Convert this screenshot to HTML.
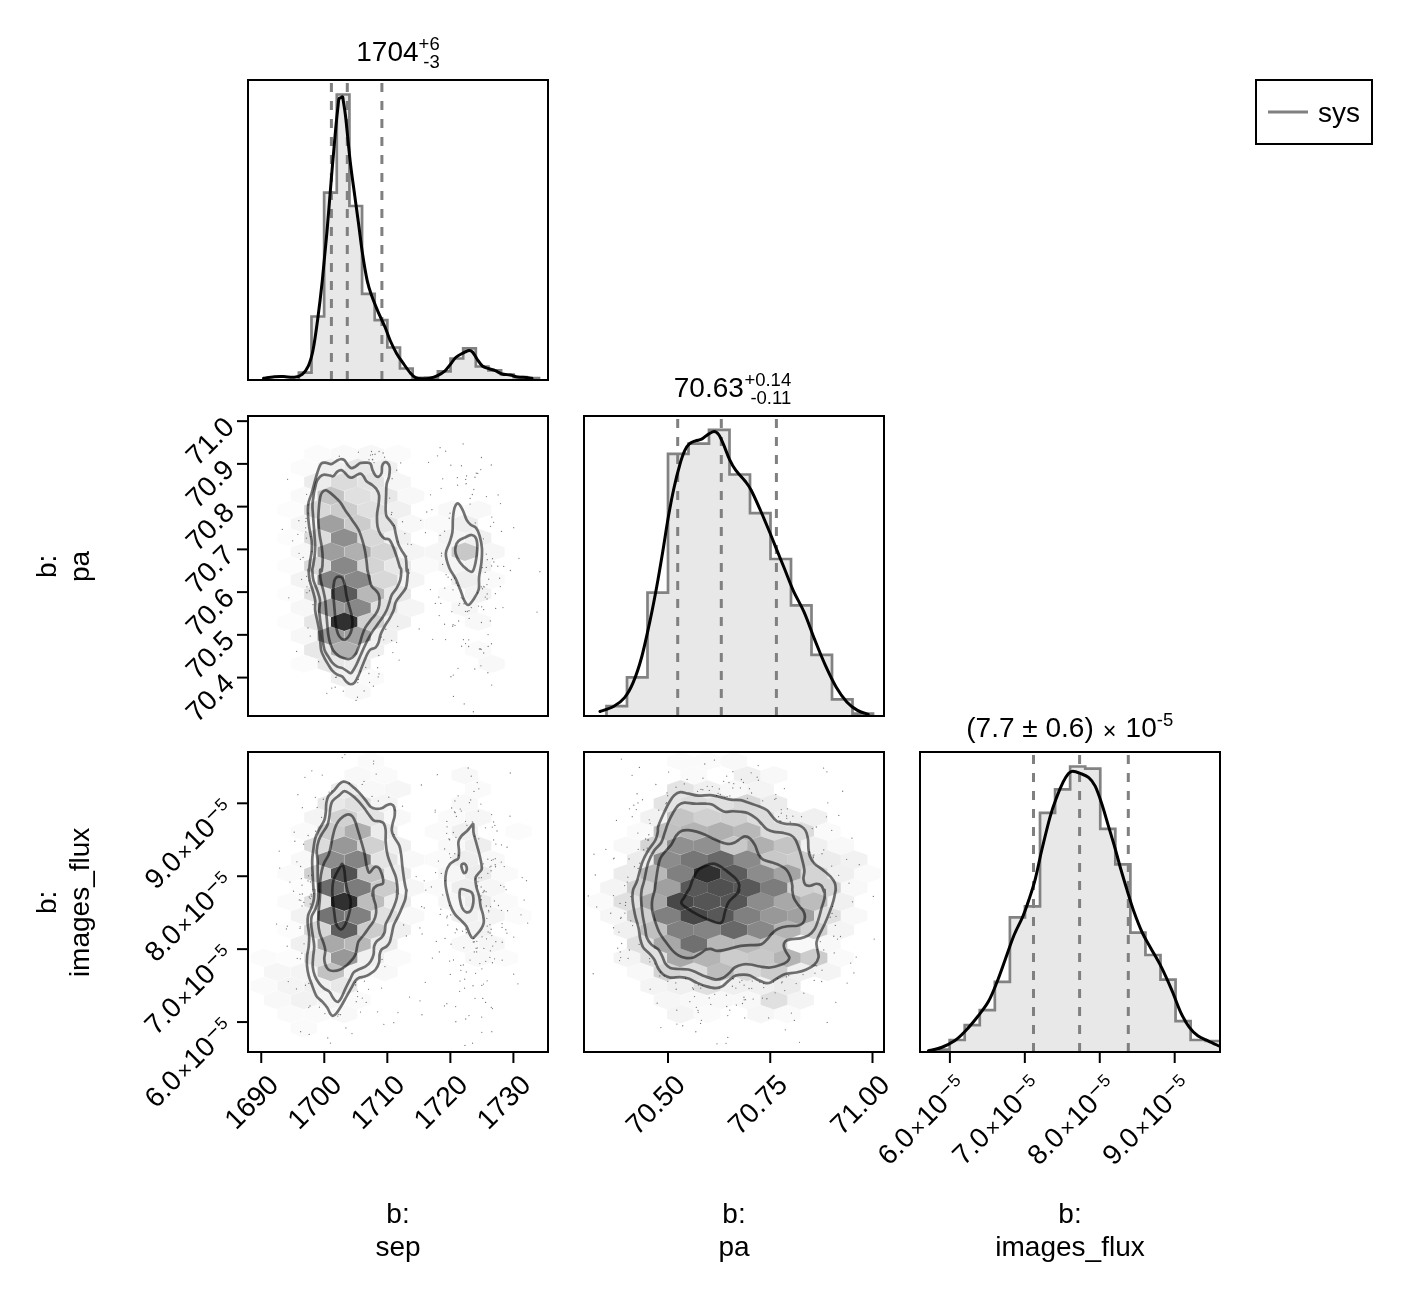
<!DOCTYPE html>
<html lang="en"><head><meta charset="utf-8"><title>Corner plot: b sep / pa / images_flux</title>
<style>html,body{margin:0;padding:0;background:#fff}svg{display:block}text{font-family:"Liberation Sans", Arial, Helvetica, sans-serif;fill:#000}</style></head><body>
<svg width="1404" height="1292" viewBox="0 0 1404 1292">
<rect width="1404" height="1292" fill="#fff"/>
<defs>
<clipPath id="c00"><rect x="248" y="80" width="300" height="300"/></clipPath>
<clipPath id="c10"><rect x="248" y="416" width="300" height="300"/></clipPath>
<clipPath id="c20"><rect x="248" y="752" width="300" height="300"/></clipPath>
<clipPath id="c01"><rect x="584" y="80" width="300" height="300"/></clipPath>
<clipPath id="c11"><rect x="584" y="416" width="300" height="300"/></clipPath>
<clipPath id="c21"><rect x="584" y="752" width="300" height="300"/></clipPath>
<clipPath id="c02"><rect x="920" y="80" width="300" height="300"/></clipPath>
<clipPath id="c12"><rect x="920" y="416" width="300" height="300"/></clipPath>
<clipPath id="c22"><rect x="920" y="752" width="300" height="300"/></clipPath>
</defs>
<g clip-path="url(#c00)">
<path d="M298.86,380 L298.86,372.7 L311.5,372.7 L311.5,316.5 L324.14,316.5 L324.14,192.7 L336.78,192.7 L336.78,94.5 L349.42,94.5 L349.42,206 L362.06,206 L362.06,293.8 L374.7,293.8 L374.7,320.1 L387.34,320.1 L387.34,347.5 L399.98,347.5 L399.98,368.5 L412.62,368.5 L412.62,377.9 L425.26,377.9 L425.26,377.6 L437.9,377.6 L437.9,371.3 L450.54,371.3 L450.54,358.5 L463.18,358.5 L463.18,348.4 L475.82,348.4 L475.82,366.5 L488.46,366.5 L488.46,370.3 L501.1,370.3 L501.1,374.5 L513.74,374.5 L513.74,377.2 L526.38,377.2 L526.38,378.2 L539.02,378.2 L539.02,380 Z" fill="#e8e8e8" stroke="none"/>
<line x1="331.4" y1="380" x2="331.4" y2="80" stroke="#808080" stroke-width="3" stroke-dasharray="9 9"/>
<line x1="347.3" y1="380" x2="347.3" y2="80" stroke="#808080" stroke-width="3" stroke-dasharray="9 9"/>
<line x1="381.9" y1="380" x2="381.9" y2="80" stroke="#808080" stroke-width="3" stroke-dasharray="9 9"/>
<path d="M298.86,380 L298.86,372.7 L311.5,372.7 L311.5,316.5 L324.14,316.5 L324.14,192.7 L336.78,192.7 L336.78,94.5 L349.42,94.5 L349.42,206 L362.06,206 L362.06,293.8 L374.7,293.8 L374.7,320.1 L387.34,320.1 L387.34,347.5 L399.98,347.5 L399.98,368.5 L412.62,368.5 L412.62,377.9 L425.26,377.9 L425.26,377.6 L437.9,377.6 L437.9,371.3 L450.54,371.3 L450.54,358.5 L463.18,358.5 L463.18,348.4 L475.82,348.4 L475.82,366.5 L488.46,366.5 L488.46,370.3 L501.1,370.3 L501.1,374.5 L513.74,374.5 L513.74,377.2 L526.38,377.2 L526.38,378.2 L539.02,378.2 L539.02,380" fill="none" stroke="#828282" stroke-width="2.7" stroke-linejoin="miter"/>
<path d="M263.5,378.3 C265.3,378.05 270.95,377.08 274.3,376.8 C277.65,376.52 280.25,376.53 283.6,376.6 C286.95,376.67 291.3,377.58 294.4,377.2 C297.5,376.82 299.87,376.2 302.2,374.3 C304.53,372.4 306.6,369.8 308.4,365.8 C310.2,361.8 311.45,358.05 313,350.3 C314.55,342.55 316.15,330.92 317.7,319.3 C319.25,307.68 320.77,295.07 322.3,280.6 C323.83,266.13 325.35,250.02 326.9,232.5 C328.45,214.98 330.1,193.18 331.6,175.5 C333.1,157.82 334.82,138.07 335.9,126.4 C336.98,114.73 337.6,110.08 338.1,105.5 C338.6,100.92 338.47,100.18 338.9,98.9 C339.33,97.62 340.08,98.13 340.7,97.8 C341.32,97.47 342.17,96.37 342.6,96.9 C343.03,97.43 342.78,97.57 343.3,101 C343.82,104.43 344.55,107.45 345.7,117.5 C346.85,127.55 348.68,148.2 350.2,161.3 C351.72,174.4 353.4,185.65 354.8,196.1 C356.2,206.55 357.3,214.3 358.6,224 C359.9,233.7 361.17,244.87 362.6,254.3 C364.03,263.73 365.67,273.63 367.2,280.6 C368.73,287.57 370,290.93 371.8,296.1 C373.6,301.27 375.8,306.45 378,311.6 C380.2,316.75 382.93,322.1 385,327 C387.07,331.9 388.47,336.6 390.4,341 C392.33,345.4 394.53,349.78 396.6,353.4 C398.67,357.02 400.48,359.4 402.8,362.7 C405.12,366 408.37,370.72 410.5,373.2 C412.63,375.68 413.77,376.67 415.6,377.6 C417.43,378.53 419.1,378.72 421.5,378.8 C423.9,378.88 427.33,378.63 430,378.1 C432.67,377.57 435,376.82 437.5,375.6 C440,374.38 442.85,372.67 445,370.8 C447.15,368.93 448.62,366.62 450.4,364.4 C452.18,362.18 453.75,359.32 455.7,357.5 C457.65,355.68 459.88,354.67 462.1,353.5 C464.32,352.33 467.22,350.68 469,350.5 C470.78,350.32 471.47,350.98 472.8,352.4 C474.13,353.82 475.4,356.73 477,359 C478.6,361.27 480.43,364.38 482.4,366 C484.37,367.62 486.67,367.93 488.8,368.7 C490.93,369.47 492.97,369.72 495.2,370.6 C497.43,371.48 499.7,373.27 502.2,374 C504.7,374.73 507.62,374.5 510.2,375 C512.78,375.5 515.03,376.58 517.7,377 C520.37,377.42 523.82,377.28 526.2,377.5 C528.58,377.72 531.03,378.17 532,378.3" fill="none" stroke="#000" stroke-width="3" stroke-linejoin="round" stroke-linecap="round"/>
</g>
<g clip-path="url(#c11)">
<path d="M606.5,716 L606.5,706.2 L627,706.2 L627,677.3 L647.5,677.3 L647.5,592.7 L668,592.7 L668,453.9 L688.5,453.9 L688.5,443.6 L709,443.6 L709,429.9 L729.5,429.9 L729.5,474.5 L750,474.5 L750,513.2 L770.5,513.2 L770.5,559 L791,559 L791,605.3 L811.5,605.3 L811.5,654.9 L832,654.9 L832,699.3 L852.5,699.3 L852.5,713.6 L873,713.6 L873,716 Z" fill="#e8e8e8" stroke="none"/>
<line x1="677.7" y1="716" x2="677.7" y2="416" stroke="#808080" stroke-width="3" stroke-dasharray="9 9"/>
<line x1="721.3" y1="716" x2="721.3" y2="416" stroke="#808080" stroke-width="3" stroke-dasharray="9 9"/>
<line x1="776.4" y1="716" x2="776.4" y2="416" stroke="#808080" stroke-width="3" stroke-dasharray="9 9"/>
<path d="M606.5,716 L606.5,706.2 L627,706.2 L627,677.3 L647.5,677.3 L647.5,592.7 L668,592.7 L668,453.9 L688.5,453.9 L688.5,443.6 L709,443.6 L709,429.9 L729.5,429.9 L729.5,474.5 L750,474.5 L750,513.2 L770.5,513.2 L770.5,559 L791,559 L791,605.3 L811.5,605.3 L811.5,654.9 L832,654.9 L832,699.3 L852.5,699.3 L852.5,713.6 L873,713.6 L873,716" fill="none" stroke="#828282" stroke-width="2.7" stroke-linejoin="miter"/>
<path d="M600,711.5 C602.32,710.62 609.8,708.52 613.9,706.2 C618,703.88 621.4,701.52 624.6,697.6 C627.8,693.68 630.25,689.47 633.1,682.7 C635.95,675.93 638.82,667.62 641.7,657 C644.58,646.38 647.88,630.78 650.4,619 C652.92,607.22 654.72,597.68 656.8,586.3 C658.88,574.92 660.97,562.32 662.9,550.7 C664.83,539.08 666.58,526.92 668.4,516.6 C670.22,506.28 671.87,497.57 673.8,488.8 C675.73,480.03 678.2,470.33 680,464 C681.8,457.67 683.05,454.15 684.6,450.8 C686.15,447.45 687.48,445.57 689.3,443.9 C691.12,442.23 693.45,441.58 695.5,440.8 C697.55,440.02 699.55,440.23 701.6,439.2 C703.65,438.17 705.73,435.88 707.8,434.6 C709.87,433.32 712.18,431.5 714,431.5 C715.82,431.5 717.15,432.53 718.7,434.6 C720.25,436.67 721.5,439.78 723.3,443.9 C725.1,448.02 727.43,454.92 729.5,459.3 C731.57,463.68 733.12,466.58 735.7,470.2 C738.28,473.82 742.42,477.65 745,481 C747.58,484.35 748.62,485.38 751.2,490.3 C753.78,495.22 757.4,503.47 760.5,510.5 C763.6,517.53 766.97,525.65 769.8,532.5 C772.63,539.35 775.13,545.77 777.5,551.6 C779.87,557.43 781.35,560.97 784,567.5 C786.65,574.03 790.05,583.35 793.4,590.8 C796.75,598.25 800.53,604.02 804.1,612.2 C807.67,620.38 811.23,631 814.8,639.9 C818.37,648.8 821.95,657.77 825.5,665.6 C829.05,673.43 832.55,680.85 836.1,686.9 C839.65,692.95 843.23,697.98 846.8,701.9 C850.37,705.82 853.93,708.33 857.5,710.4 C861.07,712.47 866.42,713.65 868.2,714.3" fill="none" stroke="#000" stroke-width="3" stroke-linejoin="round" stroke-linecap="round"/>
</g>
<g clip-path="url(#c22)">
<path d="M934.6,1052 L934.6,1049.6 L949.66,1049.6 L949.66,1040 L964.72,1040 L964.72,1025.1 L979.78,1025.1 L979.78,1010.1 L994.84,1010.1 L994.84,981.9 L1009.9,981.9 L1009.9,917.4 L1024.96,917.4 L1024.96,906.4 L1040.02,906.4 L1040.02,812.9 L1055.08,812.9 L1055.08,789.4 L1070.14,789.4 L1070.14,766.5 L1085.2,766.5 L1085.2,768.7 L1100.26,768.7 L1100.26,828.9 L1115.32,828.9 L1115.32,864.3 L1130.38,864.3 L1130.38,932.7 L1145.44,932.7 L1145.44,955 L1160.5,955 L1160.5,979.6 L1175.56,979.6 L1175.56,1021.2 L1190.62,1021.2 L1190.62,1040 L1205.68,1040 L1205.68,1041 L1220.74,1041 L1220.74,1052 Z" fill="#e8e8e8" stroke="none"/>
<line x1="1033.5" y1="1052" x2="1033.5" y2="752" stroke="#808080" stroke-width="3" stroke-dasharray="9 9"/>
<line x1="1079.6" y1="1052" x2="1079.6" y2="752" stroke="#808080" stroke-width="3" stroke-dasharray="9 9"/>
<line x1="1128.3" y1="1052" x2="1128.3" y2="752" stroke="#808080" stroke-width="3" stroke-dasharray="9 9"/>
<path d="M934.6,1052 L934.6,1049.6 L949.66,1049.6 L949.66,1040 L964.72,1040 L964.72,1025.1 L979.78,1025.1 L979.78,1010.1 L994.84,1010.1 L994.84,981.9 L1009.9,981.9 L1009.9,917.4 L1024.96,917.4 L1024.96,906.4 L1040.02,906.4 L1040.02,812.9 L1055.08,812.9 L1055.08,789.4 L1070.14,789.4 L1070.14,766.5 L1085.2,766.5 L1085.2,768.7 L1100.26,768.7 L1100.26,828.9 L1115.32,828.9 L1115.32,864.3 L1130.38,864.3 L1130.38,932.7 L1145.44,932.7 L1145.44,955 L1160.5,955 L1160.5,979.6 L1175.56,979.6 L1175.56,1021.2 L1190.62,1021.2 L1190.62,1040 L1205.68,1040 L1205.68,1041 L1220.74,1041 L1220.74,1052" fill="none" stroke="#828282" stroke-width="2.7" stroke-linejoin="miter"/>
<path d="M928.5,1050.7 C930.65,1050.17 937.12,1049.1 941.4,1047.5 C945.68,1045.9 950.28,1043.77 954.2,1041.1 C958.12,1038.43 960.98,1035.6 964.9,1031.5 C968.82,1027.4 973.78,1021.48 977.7,1016.5 C981.62,1011.52 985.2,1007.3 988.4,1001.6 C991.6,995.9 994.05,989.43 996.9,982.3 C999.75,975.17 1002.65,966.63 1005.5,958.8 C1008.35,950.97 1011.15,942.27 1014,935.3 C1016.85,928.33 1020.1,922.97 1022.6,917 C1025.1,911.03 1026.87,905.92 1029,899.5 C1031.13,893.08 1033.27,886.75 1035.4,878.5 C1037.53,870.25 1039.32,860.4 1041.8,850 C1044.28,839.6 1047.8,824.95 1050.3,816.1 C1052.8,807.25 1054.65,802.6 1056.8,796.9 C1058.95,791.2 1061.25,785.82 1063.2,781.9 C1065.15,777.98 1066.9,775.18 1068.5,773.4 C1070.1,771.62 1070.83,771.2 1072.8,771.2 C1074.77,771.2 1077.63,772.33 1080.3,773.4 C1082.97,774.47 1086.32,775.47 1088.8,777.6 C1091.28,779.73 1093.07,781.92 1095.2,786.2 C1097.33,790.48 1099.47,796.9 1101.6,803.3 C1103.73,809.7 1105.87,817.48 1108,824.6 C1110.13,831.72 1112.25,838.52 1114.4,846 C1116.55,853.48 1118.75,862.02 1120.9,869.5 C1123.05,876.98 1125.17,883.98 1127.3,890.9 C1129.43,897.82 1131.22,904.07 1133.7,911 C1136.18,917.93 1139.35,926.3 1142.2,932.5 C1145.05,938.7 1147.58,942.38 1150.8,948.2 C1154.02,954.02 1157.95,960.28 1161.5,967.4 C1165.05,974.52 1168.9,983.42 1172.1,990.9 C1175.3,998.38 1177.85,1006.25 1180.7,1012.3 C1183.55,1018.35 1186.35,1023.28 1189.2,1027.2 C1192.05,1031.12 1194.58,1033.48 1197.8,1035.8 C1201.02,1038.12 1204.95,1039.4 1208.5,1041.1 C1212.05,1042.8 1217.33,1045.18 1219.1,1046" fill="none" stroke="#000" stroke-width="3" stroke-linejoin="round" stroke-linecap="round"/>
</g>
<g clip-path="url(#c10)">
<polygon points="290.55,500.59 303.78,505.19 303.78,514.41 290.55,519.01 277.32,514.41 277.32,505.19" fill="#000" fill-opacity="0.012"/>
<polygon points="290.55,528.59 303.78,533.19 303.78,542.41 290.55,547.01 277.32,542.41 277.32,533.19" fill="#000" fill-opacity="0.012"/>
<polygon points="290.55,556.59 303.78,561.19 303.78,570.41 290.55,575.01 277.32,570.41 277.32,561.19" fill="#000" fill-opacity="0.012"/>
<polygon points="290.55,584.59 303.78,589.19 303.78,598.41 290.55,603.01 277.32,598.41 277.32,589.19" fill="#000" fill-opacity="0.012"/>
<polygon points="290.55,612.59 303.78,617.19 303.78,626.41 290.55,631.01 277.32,626.41 277.32,617.19" fill="#000" fill-opacity="0.012"/>
<polygon points="303.95,458.59 317.18,463.19 317.18,472.41 303.95,477.01 290.72,472.41 290.72,463.19" fill="#000" fill-opacity="0.016"/>
<polygon points="303.95,486.59 317.18,491.19 317.18,500.41 303.95,505.01 290.72,500.41 290.72,491.19" fill="#000" fill-opacity="0.024"/>
<polygon points="303.95,514.59 317.18,519.19 317.18,528.41 303.95,533.01 290.72,528.41 290.72,519.19" fill="#000" fill-opacity="0.039"/>
<polygon points="303.95,542.59 317.18,547.19 317.18,556.41 303.95,561.01 290.72,556.41 290.72,547.19" fill="#000" fill-opacity="0.031"/>
<polygon points="303.95,570.59 317.18,575.19 317.18,584.41 303.95,589.01 290.72,584.41 290.72,575.19" fill="#000" fill-opacity="0.047"/>
<polygon points="303.95,598.59 317.18,603.19 317.18,612.41 303.95,617.01 290.72,612.41 290.72,603.19" fill="#000" fill-opacity="0.031"/>
<polygon points="303.95,626.59 317.18,631.19 317.18,640.41 303.95,645.01 290.72,640.41 290.72,631.19" fill="#000" fill-opacity="0.031"/>
<polygon points="303.95,654.59 317.18,659.19 317.18,668.41 303.95,673.01 290.72,668.41 290.72,659.19" fill="#000" fill-opacity="0.016"/>
<polygon points="317.35,444.59 330.58,449.19 330.58,458.41 317.35,463.01 304.12,458.41 304.12,449.19" fill="#000" fill-opacity="0.016"/>
<polygon points="317.35,472.59 330.58,477.19 330.58,486.41 317.35,491.01 304.12,486.41 304.12,477.19" fill="#000" fill-opacity="0.075"/>
<polygon points="317.35,500.59 330.58,505.19 330.58,514.41 317.35,519.01 304.12,514.41 304.12,505.19" fill="#000" fill-opacity="0.153"/>
<polygon points="317.35,528.59 330.58,533.19 330.58,542.41 317.35,547.01 304.12,542.41 304.12,533.19" fill="#000" fill-opacity="0.137"/>
<polygon points="317.35,556.59 330.58,561.19 330.58,570.41 317.35,575.01 304.12,570.41 304.12,561.19" fill="#000" fill-opacity="0.153"/>
<polygon points="317.35,584.59 330.58,589.19 330.58,598.41 317.35,603.01 304.12,598.41 304.12,589.19" fill="#000" fill-opacity="0.122"/>
<polygon points="317.35,612.59 330.58,617.19 330.58,626.41 317.35,631.01 304.12,626.41 304.12,617.19" fill="#000" fill-opacity="0.098"/>
<polygon points="317.35,640.59 330.58,645.19 330.58,654.41 317.35,659.01 304.12,654.41 304.12,645.19" fill="#000" fill-opacity="0.090"/>
<polygon points="330.75,458.59 343.98,463.19 343.98,472.41 330.75,477.01 317.52,472.41 317.52,463.19" fill="#000" fill-opacity="0.059"/>
<polygon points="330.75,486.59 343.98,491.19 343.98,500.41 330.75,505.01 317.52,500.41 317.52,491.19" fill="#000" fill-opacity="0.231"/>
<polygon points="330.75,514.59 343.98,519.19 343.98,528.41 330.75,533.01 317.52,528.41 317.52,519.19" fill="#000" fill-opacity="0.373"/>
<polygon points="330.75,542.59 343.98,547.19 343.98,556.41 330.75,561.01 317.52,556.41 317.52,547.19" fill="#000" fill-opacity="0.380"/>
<polygon points="330.75,570.59 343.98,575.19 343.98,584.41 330.75,589.01 317.52,584.41 317.52,575.19" fill="#000" fill-opacity="0.498"/>
<polygon points="330.75,598.59 343.98,603.19 343.98,612.41 330.75,617.01 317.52,612.41 317.52,603.19" fill="#000" fill-opacity="0.396"/>
<polygon points="330.75,626.59 343.98,631.19 343.98,640.41 330.75,645.01 317.52,640.41 317.52,631.19" fill="#000" fill-opacity="0.388"/>
<polygon points="330.75,654.59 343.98,659.19 343.98,668.41 330.75,673.01 317.52,668.41 317.52,659.19" fill="#000" fill-opacity="0.090"/>
<polygon points="344.15,444.59 357.38,449.19 357.38,458.41 344.15,463.01 330.92,458.41 330.92,449.19" fill="#000" fill-opacity="0.024"/>
<polygon points="344.15,472.59 357.38,477.19 357.38,486.41 344.15,491.01 330.92,486.41 330.92,477.19" fill="#000" fill-opacity="0.137"/>
<polygon points="344.15,500.59 357.38,505.19 357.38,514.41 344.15,519.01 330.92,514.41 330.92,505.19" fill="#000" fill-opacity="0.200"/>
<polygon points="344.15,528.59 357.38,533.19 357.38,542.41 344.15,547.01 330.92,542.41 330.92,533.19" fill="#000" fill-opacity="0.443"/>
<polygon points="344.15,556.59 357.38,561.19 357.38,570.41 344.15,575.01 330.92,570.41 330.92,561.19" fill="#000" fill-opacity="0.467"/>
<polygon points="344.15,584.59 357.38,589.19 357.38,598.41 344.15,603.01 330.92,598.41 330.92,589.19" fill="#000" fill-opacity="0.647"/>
<polygon points="344.15,612.59 357.38,617.19 357.38,626.41 344.15,631.01 330.92,626.41 330.92,617.19" fill="#000" fill-opacity="0.812"/>
<polygon points="344.15,640.59 357.38,645.19 357.38,654.41 344.15,659.01 330.92,654.41 330.92,645.19" fill="#000" fill-opacity="0.310"/>
<polygon points="344.15,668.59 357.38,673.19 357.38,682.41 344.15,687.01 330.92,682.41 330.92,673.19" fill="#000" fill-opacity="0.059"/>
<polygon points="357.55,458.59 370.78,463.19 370.78,472.41 357.55,477.01 344.32,472.41 344.32,463.19" fill="#000" fill-opacity="0.090"/>
<polygon points="357.55,486.59 370.78,491.19 370.78,500.41 357.55,505.01 344.32,500.41 344.32,491.19" fill="#000" fill-opacity="0.122"/>
<polygon points="357.55,514.59 370.78,519.19 370.78,528.41 357.55,533.01 344.32,528.41 344.32,519.19" fill="#000" fill-opacity="0.200"/>
<polygon points="357.55,542.59 370.78,547.19 370.78,556.41 357.55,561.01 344.32,556.41 344.32,547.19" fill="#000" fill-opacity="0.310"/>
<polygon points="357.55,570.59 370.78,575.19 370.78,584.41 357.55,589.01 344.32,584.41 344.32,575.19" fill="#000" fill-opacity="0.467"/>
<polygon points="357.55,598.59 370.78,603.19 370.78,612.41 357.55,617.01 344.32,612.41 344.32,603.19" fill="#000" fill-opacity="0.467"/>
<polygon points="357.55,626.59 370.78,631.19 370.78,640.41 357.55,645.01 344.32,640.41 344.32,631.19" fill="#000" fill-opacity="0.373"/>
<polygon points="357.55,654.59 370.78,659.19 370.78,668.41 357.55,673.01 344.32,668.41 344.32,659.19" fill="#000" fill-opacity="0.075"/>
<polygon points="357.55,682.59 370.78,687.19 370.78,696.41 357.55,701.01 344.32,696.41 344.32,687.19" fill="#000" fill-opacity="0.027"/>
<polygon points="370.95,444.59 384.18,449.19 384.18,458.41 370.95,463.01 357.72,458.41 357.72,449.19" fill="#000" fill-opacity="0.031"/>
<polygon points="370.95,472.59 384.18,477.19 384.18,486.41 370.95,491.01 357.72,486.41 357.72,477.19" fill="#000" fill-opacity="0.106"/>
<polygon points="370.95,500.59 384.18,505.19 384.18,514.41 370.95,519.01 357.72,514.41 357.72,505.19" fill="#000" fill-opacity="0.122"/>
<polygon points="370.95,528.59 384.18,533.19 384.18,542.41 370.95,547.01 357.72,542.41 357.72,533.19" fill="#000" fill-opacity="0.153"/>
<polygon points="370.95,556.59 384.18,561.19 384.18,570.41 370.95,575.01 357.72,570.41 357.72,561.19" fill="#000" fill-opacity="0.169"/>
<polygon points="370.95,584.59 384.18,589.19 384.18,598.41 370.95,603.01 357.72,598.41 357.72,589.19" fill="#000" fill-opacity="0.278"/>
<polygon points="370.95,612.59 384.18,617.19 384.18,626.41 370.95,631.01 357.72,626.41 357.72,617.19" fill="#000" fill-opacity="0.184"/>
<polygon points="370.95,640.59 384.18,645.19 384.18,654.41 370.95,659.01 357.72,654.41 357.72,645.19" fill="#000" fill-opacity="0.059"/>
<polygon points="370.95,668.59 384.18,673.19 384.18,682.41 370.95,687.01 357.72,682.41 357.72,673.19" fill="#000" fill-opacity="0.020"/>
<polygon points="384.35,458.59 397.58,463.19 397.58,472.41 384.35,477.01 371.12,472.41 371.12,463.19" fill="#000" fill-opacity="0.059"/>
<polygon points="384.35,486.59 397.58,491.19 397.58,500.41 384.35,505.01 371.12,500.41 371.12,491.19" fill="#000" fill-opacity="0.090"/>
<polygon points="384.35,514.59 397.58,519.19 397.58,528.41 384.35,533.01 371.12,528.41 371.12,519.19" fill="#000" fill-opacity="0.106"/>
<polygon points="384.35,542.59 397.58,547.19 397.58,556.41 384.35,561.01 371.12,556.41 371.12,547.19" fill="#000" fill-opacity="0.169"/>
<polygon points="384.35,570.59 397.58,575.19 397.58,584.41 384.35,589.01 371.12,584.41 371.12,575.19" fill="#000" fill-opacity="0.153"/>
<polygon points="384.35,598.59 397.58,603.19 397.58,612.41 384.35,617.01 371.12,612.41 371.12,603.19" fill="#000" fill-opacity="0.122"/>
<polygon points="384.35,626.59 397.58,631.19 397.58,640.41 384.35,645.01 371.12,640.41 371.12,631.19" fill="#000" fill-opacity="0.059"/>
<polygon points="397.75,444.59 410.98,449.19 410.98,458.41 397.75,463.01 384.52,458.41 384.52,449.19" fill="#000" fill-opacity="0.016"/>
<polygon points="397.75,472.59 410.98,477.19 410.98,486.41 397.75,491.01 384.52,486.41 384.52,477.19" fill="#000" fill-opacity="0.035"/>
<polygon points="397.75,500.59 410.98,505.19 410.98,514.41 397.75,519.01 384.52,514.41 384.52,505.19" fill="#000" fill-opacity="0.059"/>
<polygon points="397.75,528.59 410.98,533.19 410.98,542.41 397.75,547.01 384.52,542.41 384.52,533.19" fill="#000" fill-opacity="0.059"/>
<polygon points="397.75,556.59 410.98,561.19 410.98,570.41 397.75,575.01 384.52,570.41 384.52,561.19" fill="#000" fill-opacity="0.090"/>
<polygon points="397.75,584.59 410.98,589.19 410.98,598.41 397.75,603.01 384.52,598.41 384.52,589.19" fill="#000" fill-opacity="0.090"/>
<polygon points="397.75,612.59 410.98,617.19 410.98,626.41 397.75,631.01 384.52,626.41 384.52,617.19" fill="#000" fill-opacity="0.059"/>
<polygon points="411.15,486.59 424.38,491.19 424.38,500.41 411.15,505.01 397.92,500.41 397.92,491.19" fill="#000" fill-opacity="0.027"/>
<polygon points="411.15,514.59 424.38,519.19 424.38,528.41 411.15,533.01 397.92,528.41 397.92,519.19" fill="#000" fill-opacity="0.027"/>
<polygon points="411.15,542.59 424.38,547.19 424.38,556.41 411.15,561.01 397.92,556.41 397.92,547.19" fill="#000" fill-opacity="0.043"/>
<polygon points="411.15,570.59 424.38,575.19 424.38,584.41 411.15,589.01 397.92,584.41 397.92,575.19" fill="#000" fill-opacity="0.043"/>
<polygon points="411.15,598.59 424.38,603.19 424.38,612.41 411.15,617.01 397.92,612.41 397.92,603.19" fill="#000" fill-opacity="0.039"/>
<polygon points="424.55,556.59 437.78,561.19 437.78,570.41 424.55,575.01 411.32,570.41 411.32,561.19" fill="#000" fill-opacity="0.020"/>
<polygon points="437.95,514.59 451.18,519.19 451.18,528.41 437.95,533.01 424.72,528.41 424.72,519.19" fill="#000" fill-opacity="0.020"/>
<polygon points="437.95,542.59 451.18,547.19 451.18,556.41 437.95,561.01 424.72,556.41 424.72,547.19" fill="#000" fill-opacity="0.035"/>
<polygon points="451.35,500.59 464.58,505.19 464.58,514.41 451.35,519.01 438.12,514.41 438.12,505.19" fill="#000" fill-opacity="0.027"/>
<polygon points="451.35,528.59 464.58,533.19 464.58,542.41 451.35,547.01 438.12,542.41 438.12,533.19" fill="#000" fill-opacity="0.043"/>
<polygon points="451.35,556.59 464.58,561.19 464.58,570.41 451.35,575.01 438.12,570.41 438.12,561.19" fill="#000" fill-opacity="0.043"/>
<polygon points="451.35,584.59 464.58,589.19 464.58,598.41 451.35,603.01 438.12,598.41 438.12,589.19" fill="#000" fill-opacity="0.020"/>
<polygon points="464.75,514.59 477.98,519.19 477.98,528.41 464.75,533.01 451.52,528.41 451.52,519.19" fill="#000" fill-opacity="0.067"/>
<polygon points="464.75,542.59 477.98,547.19 477.98,556.41 464.75,561.01 451.52,556.41 451.52,547.19" fill="#000" fill-opacity="0.216"/>
<polygon points="464.75,570.59 477.98,575.19 477.98,584.41 464.75,589.01 451.52,584.41 451.52,575.19" fill="#000" fill-opacity="0.067"/>
<polygon points="464.75,598.59 477.98,603.19 477.98,612.41 464.75,617.01 451.52,612.41 451.52,603.19" fill="#000" fill-opacity="0.035"/>
<polygon points="478.15,500.59 491.38,505.19 491.38,514.41 478.15,519.01 464.92,514.41 464.92,505.19" fill="#000" fill-opacity="0.027"/>
<polygon points="478.15,528.59 491.38,533.19 491.38,542.41 478.15,547.01 464.92,542.41 464.92,533.19" fill="#000" fill-opacity="0.059"/>
<polygon points="478.15,556.59 491.38,561.19 491.38,570.41 478.15,575.01 464.92,570.41 464.92,561.19" fill="#000" fill-opacity="0.051"/>
<polygon points="478.15,584.59 491.38,589.19 491.38,598.41 478.15,603.01 464.92,598.41 464.92,589.19" fill="#000" fill-opacity="0.051"/>
<polygon points="478.15,612.59 491.38,617.19 491.38,626.41 478.15,631.01 464.92,626.41 464.92,617.19" fill="#000" fill-opacity="0.027"/>
<polygon points="478.15,640.59 491.38,645.19 491.38,654.41 478.15,659.01 464.92,654.41 464.92,645.19" fill="#000" fill-opacity="0.020"/>
<polygon points="491.55,542.59 504.78,547.19 504.78,556.41 491.55,561.01 478.32,556.41 478.32,547.19" fill="#000" fill-opacity="0.035"/>
<polygon points="491.55,570.59 504.78,575.19 504.78,584.41 491.55,589.01 478.32,584.41 478.32,575.19" fill="#000" fill-opacity="0.020"/>
<polygon points="491.55,654.59 504.78,659.19 504.78,668.41 491.55,673.01 478.32,668.41 478.32,659.19" fill="#000" fill-opacity="0.027"/>
<path d="M488.71,579.13h0M473.41,711.73h0M440.11,535.46h0M486.3,554.1h0M451.82,611.55h0M539.89,571.65h0M491.8,517.03h0M441.5,555.93h0M385.81,629.26h0M477.74,473.47h0M483.7,653.01h0M428.54,462.34h0M453.28,675.06h0M502.96,607.62h0M497.79,566.16h0M459.65,603.72h0M491.29,464.98h0M477.51,592.9h0M474.78,669h0M335.19,687.16h0M383.74,639.79h0M451.45,579.68h0M481.34,586.79h0M369.57,682.33h0M518.96,558.28h0M282.28,529.4h0M465.57,643.55h0M437.5,455.86h0M458.01,668.34h0M464.2,703.97h0M430.52,494.84h0M299.07,553.37h0M484.09,586.93h0M481.48,457.51h0M466.27,483.54h0M306.38,538.09h0M438.8,597.04h0M468.71,639.78h0M303.09,557.47h0M495.65,608.4h0M453.1,624.65h0M440.09,447.66h0M391.4,514.48h0M486.31,567.41h0M456.05,582.99h0M378.23,676.97h0M479.4,649.02h0M476.29,473.22h0M310.81,536.59h0M470.11,498.41h0M491.45,643.76h0M461.61,646.23h0M439.21,615.56h0M493.64,522.33h0M486.43,496.55h0M368.93,673.49h0M357.49,697.23h0M381.28,637.05h0M481.25,649.35h0M445.55,639.55h0M493.87,562.01h0M483.7,609.68h0M536.98,612.05h0M458.68,620.98h0M485.29,597.11h0M306.89,592.72h0M482.42,588.73h0M465.97,483.82h0M391.65,640.45h0M440.81,603.43h0M465.65,479.47h0M448.13,577.21h0M495.4,593.64h0M462.92,598.9h0M480.78,469.6h0M492.5,558.67h0M425.44,532.65h0M464,603.73h0M442.56,564.44h0M399.13,660.09h0M287.58,479.3h0M457.34,477.72h0M288.8,597.78h0M426.77,512.02h0M483.46,538.87h0M420.74,520.28h0M461.45,465.76h0M397.79,626.3h0M470.06,504.1h0M310.24,636.05h0M454.46,578.03h0M331.75,688.08h0M491.61,565.96h0M499.63,578.23h0M490.56,526.33h0M501.51,531.4h0M309.5,590.76h0M343.33,691.03h0M435.33,603.38h0M296.63,651.46h0M490.31,620.95h0M305.84,531.88h0M398.36,541.79h0M478.54,606.09h0M309.01,580.81h0M473.82,489.5h0M300.48,559.28h0M307.96,627.91h0M377.63,667.75h0M454.99,625.37h0M482.48,567.59h0M313,604.63h0M469.15,618.44h0M458.02,585.46h0M292.69,540.78h0M465.51,611.43h0M364.11,690.89h0M468.98,610.64h0M485.19,572.31h0M463.44,639.65h0M442.68,478.8h0M449.21,518.24h0M450.04,513.14h0M483.85,586.3h0M491.69,685.11h0M487.89,672.73h0M500.5,503.55h0M305.76,521.56h0M498.13,494.96h0M468.64,646.51h0M365.75,667.39h0M450.96,676.74h0M487.07,598.95h0M335.47,677.28h0M480.48,649.01h0M481.65,606.84h0M360.63,671.81h0M486.96,584.62h0M463.14,443.94h0M510.34,570.49h0M458.88,605.31h0M513.69,527.68h0M457.59,485.15h0M488.06,634.53h0M357.79,682.54h0M472.32,494.52h0M461.28,597.79h0M358.46,679.44h0M444.55,531.13h0M444.58,624.27h0M452.73,626.26h0M336.41,677.21h0M378.82,655.49h0M467.35,611.49h0M378.98,673.92h0M475.3,522.91h0M488.15,646.44h0M445.66,451.15h0M452.98,589.78h0M487.21,593.88h0M318.63,661.69h0M404.91,533.6h0M430.38,589.6h0M373.42,686.17h0M441.13,488.32h0M432.76,639.32h0M446.12,574.65h0M474.99,477.24h0M444.78,588.09h0M356.04,700.42h0M503.73,566.47h0M326.85,693.35h0M481.47,622.52h0M419.16,628.93h0M396.58,642.3h0M471.27,607.62h0M453.48,696.44h0M487.33,559.72h0M450.86,465.21h0M431.92,509.69h0M306.98,586.86h0M441.55,553.25h0M500.33,586.62h0M480.94,665.84h0M305.65,527.81h0M466.56,475.88h0M392.88,652.55h0M358.44,452.21h0M371.52,451.51h0M379.07,451.51h0M383.1,453.02h0M370.52,455.03h0M372.53,454.53h0M375.04,454.23h0M384.61,457.25h0M369.01,459.76h0M372.33,459.36h0M372.73,459.76h0M374.04,462.58h0M400.71,462.88h0M396.68,470.13h0M392.15,478.68h0M389.64,498.11h0M391.85,512.4h0M402.52,521.76h0M394.17,525.28h0M407.75,544.1h0M411.28,544.61h0M406.75,556.18h0M409.26,572.99h0M339.32,456.24h0M306.61,494.28h0M308.12,504.85h0M308.12,513.2h0M306.1,518.44h0M298.86,520.65h0M297.85,534.34h0M311.94,551.65h0M306.61,576.31h0M301.57,579.33h0" stroke="#222" stroke-opacity="0.62" stroke-width="1.3" stroke-linecap="round" fill="none"/>
<path d="M321.2,463.59 C322.37,462.33 323.55,462.5 325.23,462.58 C326.9,462.66 329.42,464.34 331.26,464.09 C333.11,463.84 334.79,461.88 336.3,461.07 C337.81,460.27 338.98,459.43 340.32,459.26 C341.66,459.09 343.09,459.09 344.35,460.06 C345.61,461.04 346.7,463.75 347.87,465.1 C349.04,466.44 350.13,467.86 351.39,468.12 C352.65,468.37 353.91,467.44 355.42,466.61 C356.93,465.77 358.61,463.75 360.45,463.08 C362.3,462.41 364.81,462.5 366.49,462.58 C368.17,462.66 369.51,462.33 370.52,463.59 C371.52,464.85 371.69,468.12 372.53,470.13 C373.37,472.14 374.54,474.57 375.55,475.66 C376.55,476.75 377.56,477.09 378.57,476.67 C379.57,476.25 381,474.91 381.59,473.15 C382.17,471.39 381.67,467.86 382.09,466.1 C382.51,464.34 383.26,463.17 384.1,462.58 C384.94,461.99 386.2,461.83 387.12,462.58 C388.04,463.34 389.3,464.85 389.64,467.11 C389.97,469.37 389.64,473.32 389.13,476.17 C388.63,479.02 387.12,481.03 386.62,484.22 C386.12,487.41 386.28,490.93 386.12,495.29 C385.95,499.65 385.53,506.86 385.61,510.39 C385.7,513.91 385.78,514.58 386.62,516.43 C387.46,518.27 389.39,519.78 390.64,521.46 C391.9,523.13 393.33,524.48 394.17,526.49 C395.01,528.5 395.01,530.68 395.68,533.53 C396.35,536.39 397.19,540.75 398.19,543.6 C399.2,546.45 400.46,548.3 401.71,550.64 C402.97,552.99 404.9,554.33 405.74,557.69 C406.58,561.04 406.41,568.72 406.75,570.77 C407.08,572.82 407.67,568.45 407.75,570 C407.84,571.55 407.59,577.05 407.25,580.06 C406.91,583.08 406.83,585.6 405.74,588.12 C404.65,590.63 402.39,592.81 400.71,595.16 C399.03,597.51 396.85,599.69 395.68,602.21 C394.5,604.72 394.67,607.57 393.66,610.26 C392.66,612.94 391.15,615.63 389.64,618.31 C388.13,620.99 386.12,623.68 384.61,626.36 C383.1,629.04 381.59,631.73 380.58,634.41 C379.57,637.1 379.41,640.28 378.57,642.46 C377.73,644.64 376.89,646.32 375.55,647.5 C374.21,648.67 371.86,648.5 370.52,649.51 C369.17,650.52 368.5,651.69 367.5,653.53 C366.49,655.38 365.65,657.73 364.48,660.58 C363.3,663.43 361.63,667.79 360.45,670.64 C359.28,673.5 358.44,675.68 357.43,677.69 C356.43,679.7 355.59,681.63 354.41,682.72 C353.24,683.81 351.73,684.4 350.39,684.23 C349.04,684.06 347.7,682.97 346.36,681.71 C345.02,680.46 343.84,677.86 342.33,676.68 C340.83,675.51 338.98,675.68 337.3,674.67 C335.63,673.66 333.78,672.32 332.27,670.64 C330.76,668.97 329.59,666.79 328.24,664.61 C326.9,662.42 325.39,659.91 324.22,657.56 C323.04,655.21 321.87,653.37 321.2,650.52 C320.53,647.66 320.53,643.81 320.19,640.45 C319.86,637.1 319.69,633.74 319.19,630.39 C318.68,627.03 317.84,623.68 317.17,620.32 C316.5,616.97 315.5,613.61 315.16,610.26 C314.83,606.9 315.58,603.55 315.16,600.19 C314.74,596.84 313.57,593.48 312.64,590.13 C311.72,586.77 310.3,583.42 309.63,580.06 C308.95,576.71 308.7,571.55 308.62,570 C308.54,568.45 308.87,572.32 309.12,570.77 C309.37,569.22 309.71,563.9 310.13,560.71 C310.55,557.52 311.39,555.01 311.64,551.65 C311.89,548.3 312.06,544.77 311.64,540.58 C311.22,536.39 309.74,531.19 309.12,526.49 C308.5,521.79 308,516.43 307.91,512.4 C307.83,508.37 308,505.52 308.62,502.33 C309.24,499.15 310.55,496.97 311.64,493.28 C312.73,489.59 314.07,484.05 315.16,480.19 C316.25,476.34 317.17,472.9 318.18,470.13 C319.19,467.36 320.03,464.85 321.2,463.59Z" fill="none" stroke="#000" stroke-opacity="0.54" stroke-width="2.7" stroke-linejoin="round"/>
<path d="M312.64,502.33 C313.18,497.13 314.91,487.49 316.17,483.21 C317.43,478.94 318.85,478.1 320.19,476.67 C321.54,475.24 322.54,474.83 324.22,474.66 C325.9,474.49 328.75,475.41 330.26,475.66 C331.77,475.92 332.1,476.84 333.28,476.17 C334.45,475.5 335.96,472.64 337.3,471.64 C338.64,470.63 340.07,469.96 341.33,470.13 C342.59,470.3 343.68,471.55 344.85,472.64 C346.03,473.74 347.2,475.83 348.37,476.67 C349.55,477.51 350.55,477.93 351.9,477.68 C353.24,477.43 355,475.83 356.43,475.16 C357.85,474.49 359.28,473.48 360.45,473.65 C361.63,473.82 362.46,474.91 363.47,476.17 C364.48,477.43 364.98,479.69 366.49,481.2 C368,482.71 370.85,483.88 372.53,485.23 C374.21,486.57 375.46,487.57 376.55,489.25 C377.64,490.93 378.73,492.77 379.07,495.29 C379.41,497.81 378.9,501.16 378.57,504.35 C378.23,507.53 377.22,510.72 377.06,514.41 C376.89,518.1 376.97,523.13 377.56,526.49 C378.15,529.84 379.41,532.53 380.58,534.54 C381.75,536.55 383.18,537.73 384.61,538.57 C386.03,539.41 387.79,538.4 389.13,539.57 C390.48,540.75 391.4,542.76 392.66,545.61 C393.92,548.46 395.51,553.16 396.68,556.68 C397.86,560.21 398.95,564.53 399.7,566.75 C400.46,568.97 401.13,567.78 401.21,570 C401.3,572.22 400.96,577.05 400.21,580.06 C399.45,583.08 398.11,585.6 396.68,588.12 C395.26,590.63 392.91,592.64 391.65,595.16 C390.39,597.68 389.97,600.7 389.13,603.21 C388.3,605.73 387.71,607.91 386.62,610.26 C385.53,612.61 384.1,614.95 382.59,617.3 C381.08,619.65 379.24,622 377.56,624.35 C375.88,626.7 374.04,629.04 372.53,631.39 C371.02,633.74 369.84,635.92 368.5,638.44 C367.16,640.95 365.82,643.64 364.48,646.49 C363.13,649.34 361.79,652.53 360.45,655.55 C359.11,658.57 357.77,661.92 356.43,664.61 C355.08,667.29 353.41,670.22 352.4,671.65 C351.39,673.08 351.39,673.33 350.39,673.16 C349.38,672.99 347.7,671.48 346.36,670.64 C345.02,669.81 343.84,668.8 342.33,668.13 C340.83,667.46 338.98,667.54 337.3,666.62 C335.63,665.7 333.78,664.27 332.27,662.59 C330.76,660.92 329.5,658.57 328.24,656.55 C326.99,654.54 325.64,653.2 324.72,650.52 C323.8,647.83 323.21,643.81 322.71,640.45 C322.21,637.1 322.12,633.74 321.7,630.39 C321.28,627.03 320.6,623.68 320.19,620.32 C319.79,616.97 319.32,613.61 319.29,610.26 C319.25,606.9 320.34,603.55 319.99,600.19 C319.64,596.84 318.28,593.48 317.17,590.13 C316.07,586.77 314.15,583.42 313.35,580.06 C312.54,576.71 312.38,572.39 312.34,570 C312.31,567.61 312.76,568.13 313.15,565.74 C313.53,563.35 314.32,559.03 314.66,555.68 C314.99,552.32 315.24,549.81 315.16,545.61 C315.08,541.42 314.52,535.72 314.15,530.52 C313.79,525.32 313.2,519.11 312.95,514.41 C312.7,509.72 312.11,507.53 312.64,502.33Z" fill="none" stroke="#000" stroke-opacity="0.54" stroke-width="2.7" stroke-linejoin="round"/>
<path d="M320.19,497.3 C320.78,494.28 321.28,493.44 322.21,492.27 C323.13,491.1 324.39,490.17 325.73,490.26 C327.07,490.34 328.83,491.77 330.26,492.77 C331.68,493.78 332.61,494.7 334.28,496.3 C335.96,497.89 338.48,499.99 340.32,502.33 C342.17,504.68 343.34,507.37 345.35,510.39 C347.37,513.41 350.22,517.26 352.4,520.45 C354.58,523.64 356.76,526.15 358.44,529.51 C360.12,532.86 361.37,537.06 362.46,540.58 C363.55,544.1 364.31,547.29 364.98,550.64 C365.65,554 366.07,557.35 366.49,560.71 C366.91,564.06 367.33,569.22 367.5,570.77 C367.66,572.32 367.16,568.62 367.5,570 C367.83,571.38 368.84,576.37 369.51,579.06 C370.18,581.74 370.52,584.26 371.52,586.1 C372.53,587.95 374.37,588.79 375.55,590.13 C376.72,591.47 377.9,592.48 378.57,594.15 C379.24,595.83 379.57,597.84 379.57,600.19 C379.57,602.54 379.24,605.9 378.57,608.24 C377.9,610.59 376.89,612.27 375.55,614.28 C374.21,616.3 372.19,618.14 370.52,620.32 C368.84,622.5 366.83,625.02 365.48,627.37 C364.14,629.72 363.47,631.56 362.46,634.41 C361.46,637.26 360.45,641.46 359.44,644.48 C358.44,647.5 357.6,650.35 356.43,652.53 C355.25,654.71 353.74,656.47 352.4,657.56 C351.06,658.65 349.88,658.99 348.37,659.07 C346.86,659.15 345.02,658.65 343.34,658.06 C341.66,657.48 339.99,656.81 338.31,655.55 C336.63,654.29 334.62,652.53 333.28,650.52 C331.94,648.5 331.1,646.15 330.26,643.47 C329.42,640.79 328.75,637.6 328.24,634.41 C327.74,631.23 327.57,628.04 327.24,624.35 C326.9,620.66 326.57,616.3 326.23,612.27 C325.9,608.24 325.73,603.88 325.23,600.19 C324.72,596.5 323.97,593.48 323.21,590.13 C322.46,586.77 321.2,583.42 320.7,580.06 C320.19,576.71 320.03,571.55 320.19,570 C320.36,568.45 321.28,572.66 321.7,570.77 C322.12,568.89 322.71,562.72 322.71,558.7 C322.71,554.67 322.21,550.48 321.7,546.62 C321.2,542.76 320.24,539.57 319.69,535.55 C319.14,531.52 318.55,526.66 318.38,522.46 C318.21,518.27 318.38,514.58 318.68,510.39 C318.99,506.19 319.61,500.32 320.19,497.3Z" fill="none" stroke="#000" stroke-opacity="0.54" stroke-width="2.7" stroke-linejoin="round"/>
<path d="M338.81,576.54 C339.82,576.63 341.33,576.63 342.33,578.05 C343.34,579.48 344.18,582.25 344.85,585.1 C345.52,587.95 345.77,592.14 346.36,595.16 C346.95,598.18 347.62,600.36 348.37,603.21 C349.13,606.06 350.22,609.42 350.89,612.27 C351.56,615.12 352.23,617.64 352.4,620.32 C352.57,623.01 352.4,625.86 351.9,628.37 C351.39,630.89 350.47,633.57 349.38,635.42 C348.29,637.26 346.7,638.94 345.35,639.44 C344.01,639.95 342.59,639.44 341.33,638.44 C340.07,637.43 338.73,635.75 337.81,633.41 C336.88,631.06 336.3,627.87 335.79,624.35 C335.29,620.83 335.12,616.3 334.79,612.27 C334.45,608.24 334.03,603.88 333.78,600.19 C333.53,596.5 333.19,593.32 333.28,590.13 C333.36,586.94 333.78,583.17 334.28,581.07 C334.79,578.97 335.54,578.3 336.3,577.55 C337.05,576.79 337.81,576.46 338.81,576.54Z" fill="none" stroke="#000" stroke-opacity="0.54" stroke-width="2.7" stroke-linejoin="round"/>
<path d="M458.28,503.47 C459.61,503.91 461.33,507.33 462.73,510.06 C464.12,512.79 465.31,517.39 466.64,519.85 C467.98,522.31 469.17,523.5 470.74,524.83 C472.31,526.17 474.6,526.02 476.08,527.86 C477.56,529.7 478.66,532.46 479.64,535.87 C480.62,539.28 481.66,543.88 481.95,548.33 C482.25,552.78 481.9,557.83 481.42,562.58 C480.95,567.32 479.55,572.37 479.11,576.82 C478.66,581.27 479.55,585.72 478.75,589.28 C477.95,592.84 476.02,595.57 474.3,598.18 C472.58,600.79 470.06,604.5 468.42,604.95 C466.79,605.39 465.9,603.46 464.51,600.85 C463.11,598.24 461.54,592.99 460.06,589.28 C458.57,585.57 457.39,582.16 455.61,578.6 C453.83,575.04 451.01,572.07 449.38,567.92 C447.74,563.76 445.81,557.83 445.81,553.67 C445.81,549.52 448.28,546.55 449.38,542.99 C450.47,539.43 451.81,536.46 452.4,532.31 C453,528.16 452.55,522.22 452.94,518.07 C453.32,513.91 453.83,509.82 454.72,507.39 C455.61,504.95 456.94,503.02 458.28,503.47Z" fill="none" stroke="#000" stroke-opacity="0.54" stroke-width="2.7" stroke-linejoin="round"/>
<path d="M458.28,541.21 C459.76,539.73 462.28,538.69 464.51,537.65 C466.73,536.61 469.7,534.83 471.63,534.98 C473.56,535.13 475.13,536.32 476.08,538.54 C477.03,540.77 477.41,544.33 477.33,548.33 C477.24,552.34 476.35,558.72 475.55,562.58 C474.74,566.43 473.91,570.29 472.52,571.48 C471.12,572.66 469.26,571.18 467.18,569.7 C465.1,568.21 461.99,565.25 460.06,562.58 C458.13,559.91 456.35,556.35 455.61,553.67 C454.86,551 455.16,548.63 455.61,546.55 C456.05,544.48 456.79,542.7 458.28,541.21Z" fill="none" stroke="#000" stroke-opacity="0.54" stroke-width="2.7" stroke-linejoin="round"/>
</g>
<g clip-path="url(#c20)">
<polygon points="263.75,948.66 276.98,953.28 276.98,962.52 263.75,967.14 250.52,962.52 250.52,953.28" fill="#000" fill-opacity="0.016"/>
<polygon points="263.75,976.76 276.98,981.38 276.98,990.62 263.75,995.24 250.52,990.62 250.52,981.38" fill="#000" fill-opacity="0.020"/>
<polygon points="277.15,962.71 290.38,967.33 290.38,976.57 277.15,981.19 263.92,976.57 263.92,967.33" fill="#000" fill-opacity="0.035"/>
<polygon points="277.15,990.81 290.38,995.43 290.38,1004.67 277.15,1009.29 263.92,1004.67 263.92,995.43" fill="#000" fill-opacity="0.027"/>
<polygon points="290.55,864.36 303.78,868.98 303.78,878.22 290.55,882.84 277.32,878.22 277.32,868.98" fill="#000" fill-opacity="0.020"/>
<polygon points="290.55,892.46 303.78,897.08 303.78,906.32 290.55,910.94 277.32,906.32 277.32,897.08" fill="#000" fill-opacity="0.020"/>
<polygon points="290.55,920.56 303.78,925.18 303.78,934.42 290.55,939.04 277.32,934.42 277.32,925.18" fill="#000" fill-opacity="0.012"/>
<polygon points="290.55,948.66 303.78,953.28 303.78,962.52 290.55,967.14 277.32,962.52 277.32,953.28" fill="#000" fill-opacity="0.012"/>
<polygon points="290.55,976.76 303.78,981.38 303.78,990.62 290.55,995.24 277.32,990.62 277.32,981.38" fill="#000" fill-opacity="0.043"/>
<polygon points="290.55,1004.86 303.78,1009.48 303.78,1018.72 290.55,1023.34 277.32,1018.72 277.32,1009.48" fill="#000" fill-opacity="0.020"/>
<polygon points="303.95,822.21 317.18,826.83 317.18,836.07 303.95,840.69 290.72,836.07 290.72,826.83" fill="#000" fill-opacity="0.020"/>
<polygon points="303.95,850.31 317.18,854.93 317.18,864.17 303.95,868.79 290.72,864.17 290.72,854.93" fill="#000" fill-opacity="0.027"/>
<polygon points="303.95,878.41 317.18,883.03 317.18,892.27 303.95,896.89 290.72,892.27 290.72,883.03" fill="#000" fill-opacity="0.012"/>
<polygon points="303.95,906.51 317.18,911.13 317.18,920.37 303.95,924.99 290.72,920.37 290.72,911.13" fill="#000" fill-opacity="0.051"/>
<polygon points="303.95,934.61 317.18,939.23 317.18,948.47 303.95,953.09 290.72,948.47 290.72,939.23" fill="#000" fill-opacity="0.059"/>
<polygon points="303.95,962.71 317.18,967.33 317.18,976.57 303.95,981.19 290.72,976.57 290.72,967.33" fill="#000" fill-opacity="0.043"/>
<polygon points="303.95,990.81 317.18,995.43 317.18,1004.67 303.95,1009.29 290.72,1004.67 290.72,995.43" fill="#000" fill-opacity="0.051"/>
<polygon points="303.95,1018.91 317.18,1023.53 317.18,1032.77 303.95,1037.39 290.72,1032.77 290.72,1023.53" fill="#000" fill-opacity="0.020"/>
<polygon points="317.35,808.16 330.58,812.78 330.58,822.02 317.35,826.64 304.12,822.02 304.12,812.78" fill="#000" fill-opacity="0.043"/>
<polygon points="317.35,836.26 330.58,840.88 330.58,850.12 317.35,854.74 304.12,850.12 304.12,840.88" fill="#000" fill-opacity="0.141"/>
<polygon points="317.35,864.36 330.58,868.98 330.58,878.22 317.35,882.84 304.12,878.22 304.12,868.98" fill="#000" fill-opacity="0.180"/>
<polygon points="317.35,892.46 330.58,897.08 330.58,906.32 317.35,910.94 304.12,906.32 304.12,897.08" fill="#000" fill-opacity="0.131"/>
<polygon points="317.35,920.56 330.58,925.18 330.58,934.42 317.35,939.04 304.12,934.42 304.12,925.18" fill="#000" fill-opacity="0.161"/>
<polygon points="317.35,948.66 330.58,953.28 330.58,962.52 317.35,967.14 304.12,962.52 304.12,953.28" fill="#000" fill-opacity="0.122"/>
<polygon points="317.35,976.76 330.58,981.38 330.58,990.62 317.35,995.24 304.12,990.62 304.12,981.38" fill="#000" fill-opacity="0.059"/>
<polygon points="317.35,1004.86 330.58,1009.48 330.58,1018.72 317.35,1023.34 304.12,1018.72 304.12,1009.48" fill="#000" fill-opacity="0.020"/>
<polygon points="330.75,794.11 343.98,798.73 343.98,807.97 330.75,812.59 317.52,807.97 317.52,798.73" fill="#000" fill-opacity="0.090"/>
<polygon points="330.75,822.21 343.98,826.83 343.98,836.07 330.75,840.69 317.52,836.07 317.52,826.83" fill="#000" fill-opacity="0.200"/>
<polygon points="330.75,850.31 343.98,854.93 343.98,864.17 330.75,868.79 317.52,864.17 317.52,854.93" fill="#000" fill-opacity="0.451"/>
<polygon points="330.75,878.41 343.98,883.03 343.98,892.27 330.75,896.89 317.52,892.27 317.52,883.03" fill="#000" fill-opacity="0.576"/>
<polygon points="330.75,906.51 343.98,911.13 343.98,920.37 330.75,924.99 317.52,920.37 317.52,911.13" fill="#000" fill-opacity="0.545"/>
<polygon points="330.75,934.61 343.98,939.23 343.98,948.47 330.75,953.09 317.52,948.47 317.52,939.23" fill="#000" fill-opacity="0.337"/>
<polygon points="330.75,962.71 343.98,967.33 343.98,976.57 330.75,981.19 317.52,976.57 317.52,967.33" fill="#000" fill-opacity="0.239"/>
<polygon points="330.75,990.81 343.98,995.43 343.98,1004.67 330.75,1009.29 317.52,1004.67 317.52,995.43" fill="#000" fill-opacity="0.043"/>
<polygon points="344.15,780.06 357.38,784.68 357.38,793.92 344.15,798.54 330.92,793.92 330.92,784.68" fill="#000" fill-opacity="0.075"/>
<polygon points="344.15,808.16 357.38,812.78 357.38,822.02 344.15,826.64 330.92,822.02 330.92,812.78" fill="#000" fill-opacity="0.180"/>
<polygon points="344.15,836.26 357.38,840.88 357.38,850.12 344.15,854.74 330.92,850.12 330.92,840.88" fill="#000" fill-opacity="0.404"/>
<polygon points="344.15,864.36 357.38,868.98 357.38,878.22 344.15,882.84 330.92,878.22 330.92,868.98" fill="#000" fill-opacity="0.686"/>
<polygon points="344.15,892.46 357.38,897.08 357.38,906.32 344.15,910.94 330.92,906.32 330.92,897.08" fill="#000" fill-opacity="0.812"/>
<polygon points="344.15,920.56 357.38,925.18 357.38,934.42 344.15,939.04 330.92,934.42 330.92,925.18" fill="#000" fill-opacity="0.631"/>
<polygon points="344.15,948.66 357.38,953.28 357.38,962.52 344.15,967.14 330.92,962.52 330.92,953.28" fill="#000" fill-opacity="0.404"/>
<polygon points="344.15,976.76 357.38,981.38 357.38,990.62 344.15,995.24 330.92,990.62 330.92,981.38" fill="#000" fill-opacity="0.090"/>
<polygon points="344.15,1004.86 357.38,1009.48 357.38,1018.72 344.15,1023.34 330.92,1018.72 330.92,1009.48" fill="#000" fill-opacity="0.027"/>
<polygon points="357.55,766.01 370.78,770.63 370.78,779.87 357.55,784.49 344.32,779.87 344.32,770.63" fill="#000" fill-opacity="0.027"/>
<polygon points="357.55,794.11 370.78,798.73 370.78,807.97 357.55,812.59 344.32,807.97 344.32,798.73" fill="#000" fill-opacity="0.122"/>
<polygon points="357.55,822.21 370.78,826.83 370.78,836.07 357.55,840.69 344.32,836.07 344.32,826.83" fill="#000" fill-opacity="0.318"/>
<polygon points="357.55,850.31 370.78,854.93 370.78,864.17 357.55,868.79 344.32,864.17 344.32,854.93" fill="#000" fill-opacity="0.482"/>
<polygon points="357.55,878.41 370.78,883.03 370.78,892.27 357.55,896.89 344.32,892.27 344.32,883.03" fill="#000" fill-opacity="0.514"/>
<polygon points="357.55,906.51 370.78,911.13 370.78,920.37 357.55,924.99 344.32,920.37 344.32,911.13" fill="#000" fill-opacity="0.498"/>
<polygon points="357.55,934.61 370.78,939.23 370.78,948.47 357.55,953.09 344.32,948.47 344.32,939.23" fill="#000" fill-opacity="0.278"/>
<polygon points="357.55,962.71 370.78,967.33 370.78,976.57 357.55,981.19 344.32,976.57 344.32,967.33" fill="#000" fill-opacity="0.059"/>
<polygon points="357.55,990.81 370.78,995.43 370.78,1004.67 357.55,1009.29 344.32,1004.67 344.32,995.43" fill="#000" fill-opacity="0.020"/>
<polygon points="370.95,751.96 384.18,756.58 384.18,765.82 370.95,770.44 357.72,765.82 357.72,756.58" fill="#000" fill-opacity="0.020"/>
<polygon points="370.95,780.06 384.18,784.68 384.18,793.92 370.95,798.54 357.72,793.92 357.72,784.68" fill="#000" fill-opacity="0.027"/>
<polygon points="370.95,808.16 384.18,812.78 384.18,822.02 370.95,826.64 357.72,822.02 357.72,812.78" fill="#000" fill-opacity="0.106"/>
<polygon points="370.95,836.26 384.18,840.88 384.18,850.12 370.95,854.74 357.72,850.12 357.72,840.88" fill="#000" fill-opacity="0.180"/>
<polygon points="370.95,864.36 384.18,868.98 384.18,878.22 370.95,882.84 357.72,878.22 357.72,868.98" fill="#000" fill-opacity="0.239"/>
<polygon points="370.95,892.46 384.18,897.08 384.18,906.32 370.95,910.94 357.72,906.32 357.72,897.08" fill="#000" fill-opacity="0.259"/>
<polygon points="370.95,920.56 384.18,925.18 384.18,934.42 370.95,939.04 357.72,934.42 357.72,925.18" fill="#000" fill-opacity="0.200"/>
<polygon points="370.95,948.66 384.18,953.28 384.18,962.52 370.95,967.14 357.72,962.52 357.72,953.28" fill="#000" fill-opacity="0.059"/>
<polygon points="384.35,766.01 397.58,770.63 397.58,779.87 384.35,784.49 371.12,779.87 371.12,770.63" fill="#000" fill-opacity="0.020"/>
<polygon points="384.35,794.11 397.58,798.73 397.58,807.97 384.35,812.59 371.12,807.97 371.12,798.73" fill="#000" fill-opacity="0.043"/>
<polygon points="384.35,822.21 397.58,826.83 397.58,836.07 384.35,840.69 371.12,836.07 371.12,826.83" fill="#000" fill-opacity="0.075"/>
<polygon points="384.35,850.31 397.58,854.93 397.58,864.17 384.35,868.79 371.12,864.17 371.12,854.93" fill="#000" fill-opacity="0.106"/>
<polygon points="384.35,878.41 397.58,883.03 397.58,892.27 384.35,896.89 371.12,892.27 371.12,883.03" fill="#000" fill-opacity="0.200"/>
<polygon points="384.35,906.51 397.58,911.13 397.58,920.37 384.35,924.99 371.12,920.37 371.12,911.13" fill="#000" fill-opacity="0.122"/>
<polygon points="384.35,934.61 397.58,939.23 397.58,948.47 384.35,953.09 371.12,948.47 371.12,939.23" fill="#000" fill-opacity="0.075"/>
<polygon points="384.35,962.71 397.58,967.33 397.58,976.57 384.35,981.19 371.12,976.57 371.12,967.33" fill="#000" fill-opacity="0.027"/>
<polygon points="397.75,780.06 410.98,784.68 410.98,793.92 397.75,798.54 384.52,793.92 384.52,784.68" fill="#000" fill-opacity="0.035"/>
<polygon points="397.75,808.16 410.98,812.78 410.98,822.02 397.75,826.64 384.52,822.02 384.52,812.78" fill="#000" fill-opacity="0.027"/>
<polygon points="397.75,836.26 410.98,840.88 410.98,850.12 397.75,854.74 384.52,850.12 384.52,840.88" fill="#000" fill-opacity="0.059"/>
<polygon points="397.75,864.36 410.98,868.98 410.98,878.22 397.75,882.84 384.52,878.22 384.52,868.98" fill="#000" fill-opacity="0.075"/>
<polygon points="397.75,892.46 410.98,897.08 410.98,906.32 397.75,910.94 384.52,906.32 384.52,897.08" fill="#000" fill-opacity="0.075"/>
<polygon points="397.75,920.56 410.98,925.18 410.98,934.42 397.75,939.04 384.52,934.42 384.52,925.18" fill="#000" fill-opacity="0.059"/>
<polygon points="397.75,948.66 410.98,953.28 410.98,962.52 397.75,967.14 384.52,962.52 384.52,953.28" fill="#000" fill-opacity="0.020"/>
<polygon points="411.15,850.31 424.38,854.93 424.38,864.17 411.15,868.79 397.92,864.17 397.92,854.93" fill="#000" fill-opacity="0.027"/>
<polygon points="411.15,878.41 424.38,883.03 424.38,892.27 411.15,896.89 397.92,892.27 397.92,883.03" fill="#000" fill-opacity="0.035"/>
<polygon points="411.15,906.51 424.38,911.13 424.38,920.37 411.15,924.99 397.92,920.37 397.92,911.13" fill="#000" fill-opacity="0.027"/>
<polygon points="437.95,822.21 451.18,826.83 451.18,836.07 437.95,840.69 424.72,836.07 424.72,826.83" fill="#000" fill-opacity="0.020"/>
<polygon points="437.95,850.31 451.18,854.93 451.18,864.17 437.95,868.79 424.72,864.17 424.72,854.93" fill="#000" fill-opacity="0.020"/>
<polygon points="437.95,878.41 451.18,883.03 451.18,892.27 437.95,896.89 424.72,892.27 424.72,883.03" fill="#000" fill-opacity="0.020"/>
<polygon points="451.35,808.16 464.58,812.78 464.58,822.02 451.35,826.64 438.12,822.02 438.12,812.78" fill="#000" fill-opacity="0.020"/>
<polygon points="451.35,836.26 464.58,840.88 464.58,850.12 451.35,854.74 438.12,850.12 438.12,840.88" fill="#000" fill-opacity="0.027"/>
<polygon points="451.35,864.36 464.58,868.98 464.58,878.22 451.35,882.84 438.12,878.22 438.12,868.98" fill="#000" fill-opacity="0.035"/>
<polygon points="451.35,892.46 464.58,897.08 464.58,906.32 451.35,910.94 438.12,906.32 438.12,897.08" fill="#000" fill-opacity="0.035"/>
<polygon points="464.75,766.01 477.98,770.63 477.98,779.87 464.75,784.49 451.52,779.87 451.52,770.63" fill="#000" fill-opacity="0.027"/>
<polygon points="464.75,794.11 477.98,798.73 477.98,807.97 464.75,812.59 451.52,807.97 451.52,798.73" fill="#000" fill-opacity="0.027"/>
<polygon points="464.75,822.21 477.98,826.83 477.98,836.07 464.75,840.69 451.52,836.07 451.52,826.83" fill="#000" fill-opacity="0.059"/>
<polygon points="464.75,850.31 477.98,854.93 477.98,864.17 464.75,868.79 451.52,864.17 451.52,854.93" fill="#000" fill-opacity="0.067"/>
<polygon points="464.75,878.41 477.98,883.03 477.98,892.27 464.75,896.89 451.52,892.27 451.52,883.03" fill="#000" fill-opacity="0.067"/>
<polygon points="464.75,906.51 477.98,911.13 477.98,920.37 464.75,924.99 451.52,920.37 451.52,911.13" fill="#000" fill-opacity="0.059"/>
<polygon points="464.75,934.61 477.98,939.23 477.98,948.47 464.75,953.09 451.52,948.47 451.52,939.23" fill="#000" fill-opacity="0.027"/>
<polygon points="478.15,780.06 491.38,784.68 491.38,793.92 478.15,798.54 464.92,793.92 464.92,784.68" fill="#000" fill-opacity="0.020"/>
<polygon points="478.15,808.16 491.38,812.78 491.38,822.02 478.15,826.64 464.92,822.02 464.92,812.78" fill="#000" fill-opacity="0.035"/>
<polygon points="478.15,836.26 491.38,840.88 491.38,850.12 478.15,854.74 464.92,850.12 464.92,840.88" fill="#000" fill-opacity="0.067"/>
<polygon points="478.15,864.36 491.38,868.98 491.38,878.22 478.15,882.84 464.92,878.22 464.92,868.98" fill="#000" fill-opacity="0.075"/>
<polygon points="478.15,892.46 491.38,897.08 491.38,906.32 478.15,910.94 464.92,906.32 464.92,897.08" fill="#000" fill-opacity="0.075"/>
<polygon points="478.15,920.56 491.38,925.18 491.38,934.42 478.15,939.04 464.92,934.42 464.92,925.18" fill="#000" fill-opacity="0.051"/>
<polygon points="478.15,948.66 491.38,953.28 491.38,962.52 478.15,967.14 464.92,962.52 464.92,953.28" fill="#000" fill-opacity="0.027"/>
<polygon points="491.55,850.31 504.78,854.93 504.78,864.17 491.55,868.79 478.32,864.17 478.32,854.93" fill="#000" fill-opacity="0.027"/>
<polygon points="491.55,878.41 504.78,883.03 504.78,892.27 491.55,896.89 478.32,892.27 478.32,883.03" fill="#000" fill-opacity="0.035"/>
<polygon points="491.55,906.51 504.78,911.13 504.78,920.37 491.55,924.99 478.32,920.37 478.32,911.13" fill="#000" fill-opacity="0.043"/>
<polygon points="491.55,934.61 504.78,939.23 504.78,948.47 491.55,953.09 478.32,948.47 478.32,939.23" fill="#000" fill-opacity="0.035"/>
<polygon points="504.95,864.36 518.18,868.98 518.18,878.22 504.95,882.84 491.72,878.22 491.72,868.98" fill="#000" fill-opacity="0.020"/>
<polygon points="504.95,892.46 518.18,897.08 518.18,906.32 504.95,910.94 491.72,906.32 491.72,897.08" fill="#000" fill-opacity="0.020"/>
<polygon points="504.95,948.66 518.18,953.28 518.18,962.52 504.95,967.14 491.72,962.52 491.72,953.28" fill="#000" fill-opacity="0.016"/>
<polygon points="518.35,822.21 531.58,826.83 531.58,836.07 518.35,840.69 505.12,836.07 505.12,826.83" fill="#000" fill-opacity="0.016"/>
<polygon points="518.35,906.51 531.58,911.13 531.58,920.37 518.35,924.99 505.12,920.37 505.12,911.13" fill="#000" fill-opacity="0.016"/>
<path d="M425.84,890.11h0M460.76,965.43h0M495.25,864.73h0M480.9,804.08h0M474,791.45h0M431.37,886.95h0M296.92,861.87h0M465.74,1018.98h0M310.26,904.01h0M483.49,984.04h0M490.52,906.63h0M527.72,923.08h0M340.56,1014.71h0M355.64,985.01h0M406.33,935.99h0M468.14,767.99h0M492.31,827.06h0M490.38,950.86h0M393.76,1022.65h0M409.54,997.03h0M481.69,1017.11h0M502.22,942.26h0M437.34,774.67h0M501.44,910.32h0M466.92,825.37h0M304.03,943.86h0M466.59,932.64h0M495.32,858.7h0M487.23,926.06h0M450.3,974.38h0M382.07,959.45h0M447.28,916.18h0M289.93,882.07h0M491.84,935.55h0M468.97,1015.55h0M421.38,785h0M501.27,862.09h0M451.66,808.01h0M475.58,973.36h0M311.85,770.87h0M494.41,900.95h0M493.6,839.91h0M521.01,914.82h0M435.23,810.07h0M502.18,960.16h0M481.81,985.39h0M356.28,1001.71h0M300.26,926.79h0M462.59,931.15h0M487.13,980.84h0M445.02,938.46h0M300.36,958.81h0M460.89,970.33h0M495.82,941.67h0M299.86,894.33h0M458.57,855.29h0M456.49,928.96h0M491,866.22h0M487.87,873.31h0M457.17,929.82h0M475.03,998.3h0M439.32,951.9h0M378.28,800.98h0M322.25,775.07h0M471.27,776.18h0M491.77,1031.64h0M446.8,917.84h0M368.51,989.36h0M454.82,853.67h0M324.9,1013.61h0M397.96,1012.57h0M486.87,918.31h0M480.92,895.89h0M517.93,983.85h0M513.76,937.04h0M323.35,799.23h0M372.05,796.46h0M424.19,880.78h0M476.04,948.34h0M486.1,891.65h0M461.32,811.09h0M469.4,802.67h0M485.51,827.8h0M494.54,958.82h0M458.13,795.86h0M317.17,807.52h0M465.91,929.21h0M476.85,941.35h0M498.47,905.52h0M455.96,837.35h0M481.39,877.7h0M329.13,792.05h0M489.89,957.29h0M288.26,981.56h0M513.7,974.18h0M502.04,927.4h0M303.88,902.38h0M481.9,968.81h0M304.95,777.36h0M416.18,876.55h0M319.43,1007.14h0M294.2,832.16h0M486.3,906.01h0M487.82,859.18h0M492.72,946.1h0M486.51,938.8h0M300.62,1031.71h0M485.76,961.37h0M500.63,885.44h0M342.23,757.59h0M373.64,761.09h0M311.59,875.14h0M440.9,909.2h0M402.52,806.13h0M481.14,887h0M477.96,881.82h0M276.61,924.12h0M432.41,958.08h0M495.87,844.1h0M381.56,988.03h0M488.82,911.86h0M388.74,797.13h0M453.34,832.51h0M484.19,890.49h0M449.58,853.87h0M507.06,847.26h0M308.83,983.47h0M464.98,1045.38h0M419.9,927.93h0M476.64,951.91h0M315.73,831.24h0M481.4,899.69h0M522.15,877.59h0M309.17,1034.43h0M479.87,963.56h0M493.58,821.88h0M302.34,807.7h0M362.23,784.42h0M300.63,866.49h0M384.94,966.53h0M446.85,1003.65h0M455.19,932.84h0M473.79,938.52h0M447.09,826.86h0M308.38,875.86h0M377.6,1011.81h0M299.94,928.3h0M483.9,891.51h0M463.39,964.93h0M510,816.13h0M505.84,929.77h0M287.23,946.19h0M488.66,910.44h0M492.43,962.74h0M436.31,941.41h0M421.67,906.69h0M449.7,839.78h0M491.65,814.55h0M479.02,877.81h0M456.37,816.41h0M345.9,1027.95h0M465.5,821.28h0M491.3,1007.34h0M464.67,979.22h0M297.26,958.38h0M311.08,894.23h0M481.03,900.11h0M504.23,866.56h0M492.48,1008.59h0M445.13,880.67h0M460,981.06h0M287.33,926.19h0M373.58,763.85h0M464.58,988.17h0M383.86,1024.37h0M451.06,944.17h0M449.48,905.57h0M454.51,811.79h0M478.8,838.84h0M475.66,878.83h0M506.07,889.7h0M494.87,825.42h0M364.01,781.39h0M301.32,878.7h0M337.81,1016.12h0M420.02,1000.79h0M286.44,928.88h0M490.02,933.02h0M448.98,838.96h0M425.25,982.37h0M294.85,841.23h0M506.94,933.18h0M338.88,1014.47h0M489.85,867.04h0M308.09,835.52h0M344.92,754.58h0M481.79,1032.28h0M455.85,1021.76h0M470.03,960.06h0M489.95,924.68h0M311.59,896.09h0M482.78,998.43h0M474.71,836.15h0M321.54,817.3h0M357.54,996.53h0M302.32,893.78h0M510.26,772.99h0M352,1033.53h0M483.89,948.45h0M473.31,941.99h0M444.48,1005.93h0M360.5,1012.06h0M460.22,809.03h0M376.19,774.05h0M454.9,800.93h0M491.49,860.35h0M450.7,857.57h0M507.6,910.75h0M355.57,982.45h0M477.24,947.89h0M357.55,991.46h0M301.99,885.19h0M524.14,900.06h0M309.26,896.99h0M491.12,929.27h0M478.38,811.04h0M394.94,810.17h0M449.44,839.33h0M493.15,859.59h0M364.45,981.22h0M472.36,821.85h0M279.71,868.07h0M327.76,1037.96h0M453.5,959.99h0M279.25,851.03h0M473.03,985.76h0M455.66,1006.58h0M305.5,985.24h0M302.06,905.93h0M495.55,866.75h0M299.31,899.91h0M446.88,821.45h0M438.44,861.03h0M435.55,872.62h0M459.6,991.3h0M293.53,891.16h0M303.67,844.24h0M332.03,790.89h0M440.19,914.46h0M447.75,925.11h0M362.28,998.09h0M463.83,947.75h0M313.82,893.6h0M483.3,863.83h0M435.17,812.08h0M310.46,881.88h0M310.27,898.61h0M422.13,933.93h0M482.94,892.62h0M366.2,1002.46h0M501.5,844.96h0M308,880.91h0M308.75,1007.57h0M497.01,830.99h0M444.61,848.89h0M301.89,953.17h0M485.61,1002.47h0M450.64,914.9h0M478.83,788.87h0M312.9,889.3h0M424.25,907.91h0M449.62,961.03h0M296.46,988.96h0M526.5,880.69h0M349.4,783.23h0M470.69,799.9h0M302.37,894.1h0M477.48,885.96h0M477.22,782.61h0M297.88,794.69h0M474.32,951.9h0M466.29,971.96h0M488.13,932.02h0M403.58,925.02h0M394.16,834.55h0M300.85,900.36h0M482.04,936.85h0M421.96,1014.76h0M330.43,1043.11h0M455.15,812.68h0M446.66,833.37h0M504.01,886.87h0M309.97,1005.98h0M491.1,870.76h0M315.36,797.28h0M441.3,873.44h0M472.56,1043.14h0M442.71,894.95h0M502.07,923.54h0M474.27,941.76h0" stroke="#222" stroke-opacity="0.62" stroke-width="1.3" stroke-linecap="round" fill="none"/>
<path d="M343.41,781.57 C344.92,781.41 346.59,781.99 348.44,783.08 C350.28,784.17 352.46,786.27 354.48,788.12 C356.49,789.96 358.67,792.14 360.52,794.15 C362.36,796.17 363.87,798.1 365.55,800.19 C367.22,802.29 368.9,805.31 370.58,806.74 C372.26,808.16 373.77,808.5 375.61,808.75 C377.46,809 379.81,808.83 381.65,808.24 C383.5,807.66 385.09,805.9 386.68,805.23 C388.28,804.55 389.95,803.88 391.21,804.22 C392.47,804.55 393.64,805.39 394.23,807.24 C394.82,809.08 394.99,812.61 394.73,815.29 C394.48,817.97 393.22,820.83 392.72,823.34 C392.22,825.86 391.55,828.21 391.71,830.39 C391.88,832.57 392.47,833.91 393.73,836.43 C394.99,838.94 398.01,842.3 399.26,845.48 C400.52,848.67 400.77,852.19 401.28,855.55 C401.78,858.9 401.78,861.42 402.28,865.61 C402.79,869.81 403.62,876.52 404.3,880.71 C404.97,884.9 405.97,889.22 406.31,890.77 C406.64,892.32 406.48,888.62 406.31,890 C406.14,891.38 406.06,896.04 405.3,899.06 C404.55,902.08 403.04,905.1 401.78,908.12 C400.52,911.14 399.1,914.32 397.75,917.17 C396.41,920.03 394.73,922.37 393.73,925.23 C392.72,928.08 392.39,931.43 391.71,934.28 C391.04,937.13 390.54,940.32 389.7,942.33 C388.86,944.35 388.02,945.19 386.68,946.36 C385.34,947.53 382.82,948.04 381.65,949.38 C380.48,950.72 380.06,952.23 379.64,954.41 C379.22,956.59 379.81,959.95 379.13,962.46 C378.46,964.98 377.04,967.66 375.61,969.51 C374.19,971.35 372.42,972.36 370.58,973.53 C368.73,974.71 366.39,975.88 364.54,976.55 C362.7,977.22 361.02,976.89 359.51,977.56 C358,978.23 356.83,978.9 355.48,980.58 C354.14,982.26 352.97,984.94 351.46,987.62 C349.95,990.31 348.1,993.66 346.43,996.68 C344.75,999.7 343.07,1002.97 341.39,1005.74 C339.72,1008.51 337.79,1011.61 336.36,1013.29 C334.93,1014.97 333.84,1015.72 332.84,1015.81 C331.83,1015.89 331.24,1015.13 330.32,1013.79 C329.4,1012.45 328.64,1009.77 327.3,1007.75 C325.96,1005.74 324.12,1003.73 322.27,1001.71 C320.43,999.7 317.91,998.36 316.23,995.68 C314.55,992.99 313.46,988.97 312.21,985.61 C310.95,982.26 309.56,978.9 308.68,975.55 C307.81,972.19 307.22,968.84 306.97,965.48 C306.72,962.13 306.89,958.61 307.17,955.42 C307.46,952.23 308.35,949.72 308.68,946.36 C309.02,943.01 309.35,939.15 309.19,935.29 C309.02,931.43 307.84,926.57 307.68,923.21 C307.51,919.86 307.59,917.68 308.18,915.16 C308.77,912.64 310.28,910.63 311.2,908.12 C312.12,905.6 313.21,903.08 313.72,900.06 C314.22,897.05 314.22,891.55 314.22,890 C314.22,888.45 313.97,893.16 313.72,890.77 C313.46,888.39 312.96,880.71 312.71,875.68 C312.46,870.64 312.12,864.77 312.21,860.58 C312.29,856.39 312.71,854.21 313.21,850.52 C313.72,846.83 314.22,841.96 315.23,838.44 C316.23,834.92 317.74,832.4 319.25,829.38 C320.76,826.36 323.19,823.17 324.28,820.32 C325.37,817.47 325.46,815.12 325.79,812.27 C326.13,809.42 325.88,805.9 326.3,803.21 C326.72,800.53 326.97,798.35 328.31,796.17 C329.65,793.99 332.5,792.14 334.35,790.13 C336.19,788.12 337.87,785.52 339.38,784.09 C340.89,782.66 341.9,781.74 343.41,781.57Z" fill="none" stroke="#000" stroke-opacity="0.54" stroke-width="2.7" stroke-linejoin="round"/>
<path d="M344.41,791.14 C346.26,790.97 348.27,792.64 350.45,794.15 C352.63,795.66 355.32,798.01 357.5,800.19 C359.68,802.37 361.69,804.89 363.53,807.24 C365.38,809.59 366.89,812.1 368.57,814.28 C370.24,816.46 371.75,819.15 373.6,820.32 C375.44,821.5 377.96,820.83 379.64,821.33 C381.32,821.83 382.66,821.83 383.66,823.34 C384.67,824.85 385.34,827.2 385.68,830.39 C386.01,833.57 385.34,838.27 385.68,842.46 C386.01,846.66 386.68,851.52 387.69,855.55 C388.7,859.57 390.37,863.1 391.71,866.62 C393.06,870.14 394.82,873.5 395.74,876.68 C396.66,879.87 396.91,882.89 397.25,885.74 C397.59,888.59 397.75,893.08 397.75,893.79 C397.75,894.5 397.42,889.29 397.25,890 C397.08,890.71 397.33,895.2 396.75,898.05 C396.16,900.9 394.9,904.09 393.73,907.11 C392.55,910.13 391.04,913.32 389.7,916.17 C388.36,919.02 386.52,921.54 385.68,924.22 C384.84,926.9 385.34,930.09 384.67,932.27 C384,934.45 382.99,935.79 381.65,937.3 C380.31,938.81 377.88,939.82 376.62,941.33 C375.36,942.84 374.61,944.18 374.1,946.36 C373.6,948.54 374.19,951.9 373.6,954.41 C373.01,956.93 371.92,959.44 370.58,961.46 C369.24,963.47 367.56,965.15 365.55,966.49 C363.53,967.83 360.52,968.5 358.5,969.51 C356.49,970.52 354.81,971.02 353.47,972.53 C352.13,974.04 351.79,975.88 350.45,978.57 C349.11,981.25 346.93,985.44 345.42,988.63 C343.91,991.82 342.57,995.51 341.39,997.69 C340.22,999.87 339.38,1001.21 338.37,1001.71 C337.37,1002.22 336.36,1001.55 335.35,1000.71 C334.35,999.87 333.34,998.19 332.33,996.68 C331.33,995.17 330.66,992.99 329.32,991.65 C327.97,990.31 325.96,989.97 324.28,988.63 C322.61,987.29 320.84,985.78 319.25,983.6 C317.66,981.42 315.81,978.4 314.72,975.55 C313.63,972.7 312.96,969.68 312.71,966.49 C312.46,963.3 312.96,959.78 313.21,956.43 C313.46,953.07 314.3,949.88 314.22,946.36 C314.14,942.84 313.21,938.98 312.71,935.29 C312.21,931.6 311.37,927.41 311.2,924.22 C311.03,921.03 311,918.68 311.7,916.17 C312.41,913.65 314.37,911.81 315.43,909.12 C316.48,906.44 317.54,903.25 318.04,900.06 C318.55,896.88 318.41,891.55 318.45,890 C318.48,888.45 318.36,893.16 318.24,890.77 C318.13,888.39 317.86,880.71 317.74,875.68 C317.62,870.64 317.71,864.77 317.54,860.58 C317.37,856.39 316.53,853.87 316.74,850.52 C316.94,847.16 317.83,843.3 318.75,840.45 C319.67,837.6 320.84,835.92 322.27,833.41 C323.7,830.89 326.13,828.04 327.3,825.35 C328.48,822.67 328.81,820.15 329.32,817.3 C329.82,814.45 329.82,810.93 330.32,808.24 C330.83,805.56 330.83,803.38 332.33,801.2 C333.84,799.02 337.37,796.84 339.38,795.16 C341.39,793.48 342.57,791.3 344.41,791.14Z" fill="none" stroke="#000" stroke-opacity="0.54" stroke-width="2.7" stroke-linejoin="round"/>
<path d="M348.44,814.28 C349.95,814.28 351.29,814.95 352.46,816.3 C353.64,817.64 354.48,819.65 355.48,822.33 C356.49,825.02 357.5,829.04 358.5,832.4 C359.51,835.75 360.52,838.94 361.52,842.46 C362.53,845.99 363.7,849.68 364.54,853.53 C365.38,857.39 365.8,862.42 366.55,865.61 C367.31,868.8 368.06,872.07 369.07,872.66 C370.08,873.24 371.5,870.14 372.59,869.13 C373.68,868.13 374.52,866.79 375.61,866.62 C376.7,866.45 378.13,866.95 379.13,868.13 C380.14,869.3 380.98,871.73 381.65,873.66 C382.32,875.59 382.99,878.02 383.16,879.7 C383.33,881.38 383.75,882.72 382.66,883.73 C381.57,884.73 378.21,884.73 376.62,885.74 C375.02,886.75 373.77,888.09 373.1,889.77 C372.42,891.44 372.59,895.77 372.59,895.81 C372.59,895.84 372.93,889.63 373.1,890 C373.26,890.37 373.18,895.54 373.6,898.05 C374.02,900.57 375.19,902.58 375.61,905.1 C376.03,907.61 376.45,910.46 376.12,913.15 C375.78,915.83 374.86,918.68 373.6,921.2 C372.34,923.72 370.24,925.9 368.57,928.24 C366.89,930.59 365.21,933.11 363.53,935.29 C361.86,937.47 359.59,939.32 358.5,941.33 C357.41,943.34 357.5,945.19 356.99,947.37 C356.49,949.55 356.41,952.23 355.48,954.41 C354.56,956.59 352.97,958.61 351.46,960.45 C349.95,962.3 348.27,963.97 346.43,965.48 C344.58,966.99 342.57,968.59 340.39,969.51 C338.21,970.43 335.35,971.02 333.34,971.02 C331.33,971.02 329.65,970.6 328.31,969.51 C326.97,968.42 325.96,966.32 325.29,964.48 C324.62,962.63 324.28,960.79 324.28,958.44 C324.28,956.09 325.46,953.07 325.29,950.39 C325.12,947.7 324.2,945.19 323.28,942.33 C322.35,939.48 320.59,936.46 319.75,933.28 C318.92,930.09 318.41,927.07 318.24,923.21 C318.08,919.35 318.5,913.99 318.75,910.13 C319,906.27 319.5,903.42 319.75,900.06 C320.01,896.71 320.21,891.55 320.26,890 C320.31,888.45 320.06,892.32 320.06,890.77 C320.06,889.22 319.97,884.06 320.26,880.71 C320.54,877.35 321.1,873.66 321.77,870.64 C322.44,867.62 323.19,865.11 324.28,862.59 C325.37,860.08 327.3,857.9 328.31,855.55 C329.32,853.2 329.65,851.35 330.32,848.5 C330.99,845.65 331.58,841.79 332.33,838.44 C333.09,835.08 333.84,831.23 334.85,828.37 C335.86,825.52 336.95,823.34 338.37,821.33 C339.8,819.32 341.73,817.47 343.41,816.3 C345.08,815.12 346.93,814.28 348.44,814.28Z" fill="none" stroke="#000" stroke-opacity="0.54" stroke-width="2.7" stroke-linejoin="round"/>
<path d="M342.4,864.1 C343.07,864.77 343.91,867.88 344.41,870.64 C344.92,873.41 344.92,877.35 345.42,880.71 C345.92,884.06 346.59,887.71 347.43,890.77 C348.27,893.83 349.95,896.34 350.45,899.06 C350.95,901.78 350.79,904.26 350.45,907.11 C350.12,909.96 349.28,913.32 348.44,916.17 C347.6,919.02 346.43,922.12 345.42,924.22 C344.41,926.32 343.41,927.99 342.4,928.75 C341.39,929.5 340.47,929.67 339.38,928.75 C338.29,927.83 336.7,925.81 335.86,923.21 C335.02,920.61 334.85,917.01 334.35,913.15 C333.84,909.29 333.17,903.79 332.84,900.06 C332.5,896.34 332.25,894 332.33,890.77 C332.42,887.55 332.67,883.56 333.34,880.71 C334.01,877.86 335.19,876.01 336.36,873.66 C337.53,871.32 339.38,868.21 340.39,866.62 C341.39,865.02 341.73,863.43 342.4,864.1Z" fill="none" stroke="#000" stroke-opacity="0.54" stroke-width="2.7" stroke-linejoin="round"/>
<path d="M473.23,824.14 C473.68,825.07 473.07,829.4 473.48,832.19 C473.89,834.97 474.82,837.55 475.71,840.85 C476.59,844.15 477.87,848.28 478.8,851.99 C479.73,855.71 480.8,860.25 481.28,863.13 C481.75,866.02 482.16,867.57 481.65,869.32 C481.13,871.08 479.21,872.21 478.18,873.66 C477.15,875.1 475.77,875.82 475.46,877.99 C475.15,880.16 475.71,883.56 476.33,886.66 C476.94,889.75 478.45,893.26 479.17,896.56 C479.9,899.86 480,903.37 480.66,906.46 C481.32,909.56 482.62,912.45 483.13,915.13 C483.65,917.81 484.06,920.29 483.75,922.56 C483.44,924.82 482.52,926.68 481.28,928.74 C480.04,930.81 477.77,933.39 476.33,934.93 C474.88,936.48 473.75,938.24 472.61,938.03 C471.48,937.82 470.55,935.66 469.52,933.7 C468.49,931.74 467.87,928.54 466.42,926.27 C464.98,924 462.81,922.14 460.85,920.08 C458.89,918.02 456.42,916.37 454.66,913.89 C452.91,911.41 451.57,908.53 450.33,905.22 C449.09,901.92 448.06,897.8 447.23,894.08 C446.41,890.37 445.54,886.66 445.38,882.94 C445.21,879.23 445.52,874.89 446.24,871.8 C446.97,868.71 448.31,866.23 449.71,864.37 C451.11,862.52 453.22,861.69 454.66,860.66 C456.11,859.63 457.65,859.83 458.38,858.18 C459.1,856.53 458.99,853.44 458.99,850.76 C458.99,848.07 457.96,844.57 458.38,842.09 C458.79,839.61 460.03,837.76 461.47,835.9 C462.91,834.04 465.49,832.5 467.04,830.95 C468.59,829.4 469.72,827.75 470.76,826.62 C471.79,825.48 472.78,823.21 473.23,824.14Z" fill="none" stroke="#000" stroke-opacity="0.54" stroke-width="2.7" stroke-linejoin="round"/>
<path d="M461.47,864.99 C461.88,864.06 463.68,863.34 464.57,863.75 C465.45,864.17 466.55,866.13 466.79,867.47 C467.04,868.81 466.53,870.87 466.05,871.8 C465.58,872.73 464.61,873.45 463.95,873.04 C463.29,872.63 462.5,870.67 462.09,869.32 C461.68,867.98 461.06,865.92 461.47,864.99Z" fill="none" stroke="#000" stroke-opacity="0.54" stroke-width="2.7" stroke-linejoin="round"/>
<path d="M460.85,889.13 C462.09,888.72 465.18,889.75 467.04,890.37 C468.9,890.99 470.92,891.4 471.99,892.84 C473.07,894.29 473.38,896.76 473.48,899.03 C473.58,901.3 473.17,904.4 472.61,906.46 C472.05,908.53 471.27,910.49 470.14,911.41 C469,912.34 467.14,912.65 465.8,912.03 C464.46,911.41 463.08,909.87 462.09,907.7 C461.1,905.53 460.27,901.51 459.86,899.03 C459.45,896.56 459.45,894.5 459.61,892.84 C459.78,891.19 459.61,889.54 460.85,889.13Z" fill="none" stroke="#000" stroke-opacity="0.54" stroke-width="2.7" stroke-linejoin="round"/>
</g>
<g clip-path="url(#c21)">
<polygon points="600.14,892.35 613.48,897.03 613.48,906.37 600.14,911.05 586.8,906.37 586.8,897.03" fill="#000" fill-opacity="0.020"/>
<polygon points="613.51,878.3 626.85,882.98 626.85,892.32 613.51,897 600.17,892.32 600.17,882.98" fill="#000" fill-opacity="0.043"/>
<polygon points="613.51,906.4 626.85,911.08 626.85,920.42 613.51,925.1 600.17,920.42 600.17,911.08" fill="#000" fill-opacity="0.035"/>
<polygon points="626.88,836.15 640.22,840.83 640.22,850.17 626.88,854.85 613.54,850.17 613.54,840.83" fill="#000" fill-opacity="0.027"/>
<polygon points="626.88,864.25 640.22,868.93 640.22,878.27 626.88,882.95 613.54,878.27 613.54,868.93" fill="#000" fill-opacity="0.075"/>
<polygon points="626.88,892.35 640.22,897.03 640.22,906.37 626.88,911.05 613.54,906.37 613.54,897.03" fill="#000" fill-opacity="0.122"/>
<polygon points="626.88,920.45 640.22,925.13 640.22,934.47 626.88,939.15 613.54,934.47 613.54,925.13" fill="#000" fill-opacity="0.059"/>
<polygon points="626.88,948.55 640.22,953.23 640.22,962.57 626.88,967.25 613.54,962.57 613.54,953.23" fill="#000" fill-opacity="0.043"/>
<polygon points="640.25,822.1 653.59,826.78 653.59,836.12 640.25,840.8 626.91,836.12 626.91,826.78" fill="#000" fill-opacity="0.020"/>
<polygon points="640.25,850.2 653.59,854.88 653.59,864.22 640.25,868.9 626.91,864.22 626.91,854.88" fill="#000" fill-opacity="0.075"/>
<polygon points="640.25,878.3 653.59,882.98 653.59,892.32 640.25,897 626.91,892.32 626.91,882.98" fill="#000" fill-opacity="0.184"/>
<polygon points="640.25,906.4 653.59,911.08 653.59,920.42 640.25,925.1 626.91,920.42 626.91,911.08" fill="#000" fill-opacity="0.184"/>
<polygon points="640.25,934.5 653.59,939.18 653.59,948.52 640.25,953.2 626.91,948.52 626.91,939.18" fill="#000" fill-opacity="0.122"/>
<polygon points="640.25,962.6 653.59,967.28 653.59,976.62 640.25,981.3 626.91,976.62 626.91,967.28" fill="#000" fill-opacity="0.027"/>
<polygon points="653.62,808.05 666.96,812.73 666.96,822.07 653.62,826.75 640.28,822.07 640.28,812.73" fill="#000" fill-opacity="0.051"/>
<polygon points="653.62,836.15 666.96,840.83 666.96,850.17 653.62,854.85 640.28,850.17 640.28,840.83" fill="#000" fill-opacity="0.169"/>
<polygon points="653.62,864.25 666.96,868.93 666.96,878.27 653.62,882.95 640.28,878.27 640.28,868.93" fill="#000" fill-opacity="0.278"/>
<polygon points="653.62,892.35 666.96,897.03 666.96,906.37 653.62,911.05 640.28,906.37 640.28,897.03" fill="#000" fill-opacity="0.341"/>
<polygon points="653.62,920.45 666.96,925.13 666.96,934.47 653.62,939.15 640.28,934.47 640.28,925.13" fill="#000" fill-opacity="0.247"/>
<polygon points="653.62,948.55 666.96,953.23 666.96,962.57 653.62,967.25 640.28,962.57 640.28,953.23" fill="#000" fill-opacity="0.122"/>
<polygon points="653.62,976.65 666.96,981.33 666.96,990.67 653.62,995.35 640.28,990.67 640.28,981.33" fill="#000" fill-opacity="0.043"/>
<polygon points="666.99,794 680.33,798.68 680.33,808.02 666.99,812.7 653.65,808.02 653.65,798.68" fill="#000" fill-opacity="0.106"/>
<polygon points="666.99,822.1 680.33,826.78 680.33,836.12 666.99,840.8 653.65,836.12 653.65,826.78" fill="#000" fill-opacity="0.247"/>
<polygon points="666.99,850.2 680.33,854.88 680.33,864.22 666.99,868.9 653.65,864.22 653.65,854.88" fill="#000" fill-opacity="0.451"/>
<polygon points="666.99,878.3 680.33,882.98 680.33,892.32 666.99,897 653.65,892.32 653.65,882.98" fill="#000" fill-opacity="0.373"/>
<polygon points="666.99,906.4 680.33,911.08 680.33,920.42 666.99,925.1 653.65,920.42 653.65,911.08" fill="#000" fill-opacity="0.498"/>
<polygon points="666.99,934.5 680.33,939.18 680.33,948.52 666.99,953.2 653.65,948.52 653.65,939.18" fill="#000" fill-opacity="0.341"/>
<polygon points="666.99,962.6 680.33,967.28 680.33,976.62 666.99,981.3 653.65,976.62 653.65,967.28" fill="#000" fill-opacity="0.169"/>
<polygon points="666.99,990.7 680.33,995.38 680.33,1004.72 666.99,1009.4 653.65,1004.72 653.65,995.38" fill="#000" fill-opacity="0.035"/>
<polygon points="680.36,751.85 693.7,756.53 693.7,765.87 680.36,770.55 667.02,765.87 667.02,756.53" fill="#000" fill-opacity="0.020"/>
<polygon points="680.36,779.95 693.7,784.63 693.7,793.97 680.36,798.65 667.02,793.97 667.02,784.63" fill="#000" fill-opacity="0.106"/>
<polygon points="680.36,808.05 693.7,812.73 693.7,822.07 680.36,826.75 667.02,822.07 667.02,812.73" fill="#000" fill-opacity="0.231"/>
<polygon points="680.36,836.15 693.7,840.83 693.7,850.17 680.36,854.85 667.02,850.17 667.02,840.83" fill="#000" fill-opacity="0.435"/>
<polygon points="680.36,864.25 693.7,868.93 693.7,878.27 680.36,882.95 667.02,878.27 667.02,868.93" fill="#000" fill-opacity="0.498"/>
<polygon points="680.36,892.35 693.7,897.03 693.7,906.37 680.36,911.05 667.02,906.37 667.02,897.03" fill="#000" fill-opacity="0.718"/>
<polygon points="680.36,920.45 693.7,925.13 693.7,934.47 680.36,939.15 667.02,934.47 667.02,925.13" fill="#000" fill-opacity="0.498"/>
<polygon points="680.36,948.55 693.7,953.23 693.7,962.57 680.36,967.25 667.02,962.57 667.02,953.23" fill="#000" fill-opacity="0.341"/>
<polygon points="680.36,976.65 693.7,981.33 693.7,990.67 680.36,995.35 667.02,990.67 667.02,981.33" fill="#000" fill-opacity="0.059"/>
<polygon points="680.36,1004.75 693.7,1009.43 693.7,1018.77 680.36,1023.45 667.02,1018.77 667.02,1009.43" fill="#000" fill-opacity="0.043"/>
<polygon points="693.73,765.9 707.07,770.58 707.07,779.92 693.73,784.6 680.39,779.92 680.39,770.58" fill="#000" fill-opacity="0.020"/>
<polygon points="693.73,794 707.07,798.68 707.07,808.02 693.73,812.7 680.39,808.02 680.39,798.68" fill="#000" fill-opacity="0.137"/>
<polygon points="693.73,822.1 707.07,826.78 707.07,836.12 693.73,840.8 680.39,836.12 680.39,826.78" fill="#000" fill-opacity="0.294"/>
<polygon points="693.73,850.2 707.07,854.88 707.07,864.22 693.73,868.9 680.39,864.22 680.39,854.88" fill="#000" fill-opacity="0.537"/>
<polygon points="693.73,878.3 707.07,882.98 707.07,892.32 693.73,897 680.39,892.32 680.39,882.98" fill="#000" fill-opacity="0.655"/>
<polygon points="693.73,906.4 707.07,911.08 707.07,920.42 693.73,925.1 680.39,920.42 680.39,911.08" fill="#000" fill-opacity="0.718"/>
<polygon points="693.73,934.5 707.07,939.18 707.07,948.52 693.73,953.2 680.39,948.52 680.39,939.18" fill="#000" fill-opacity="0.561"/>
<polygon points="693.73,962.6 707.07,967.28 707.07,976.62 693.73,981.3 680.39,976.62 680.39,967.28" fill="#000" fill-opacity="0.137"/>
<polygon points="693.73,990.7 707.07,995.38 707.07,1004.72 693.73,1009.4 680.39,1004.72 680.39,995.38" fill="#000" fill-opacity="0.027"/>
<polygon points="707.1,751.85 720.44,756.53 720.44,765.87 707.1,770.55 693.76,765.87 693.76,756.53" fill="#000" fill-opacity="0.020"/>
<polygon points="707.1,779.95 720.44,784.63 720.44,793.97 707.1,798.65 693.76,793.97 693.76,784.63" fill="#000" fill-opacity="0.059"/>
<polygon points="707.1,808.05 720.44,812.73 720.44,822.07 707.1,826.75 693.76,822.07 693.76,812.73" fill="#000" fill-opacity="0.184"/>
<polygon points="707.1,836.15 720.44,840.83 720.44,850.17 707.1,854.85 693.76,850.17 693.76,840.83" fill="#000" fill-opacity="0.435"/>
<polygon points="707.1,864.25 720.44,868.93 720.44,878.27 707.1,882.95 693.76,878.27 693.76,868.93" fill="#000" fill-opacity="0.812"/>
<polygon points="707.1,892.35 720.44,897.03 720.44,906.37 707.1,911.05 693.76,906.37 693.76,897.03" fill="#000" fill-opacity="0.667"/>
<polygon points="707.1,920.45 720.44,925.13 720.44,934.47 707.1,939.15 693.76,934.47 693.76,925.13" fill="#000" fill-opacity="0.482"/>
<polygon points="707.1,948.55 720.44,953.23 720.44,962.57 707.1,967.25 693.76,962.57 693.76,953.23" fill="#000" fill-opacity="0.294"/>
<polygon points="707.1,976.65 720.44,981.33 720.44,990.67 707.1,995.35 693.76,990.67 693.76,981.33" fill="#000" fill-opacity="0.122"/>
<polygon points="707.1,1004.75 720.44,1009.43 720.44,1018.77 707.1,1023.45 693.76,1018.77 693.76,1009.43" fill="#000" fill-opacity="0.020"/>
<polygon points="720.47,794 733.81,798.68 733.81,808.02 720.47,812.7 707.13,808.02 707.13,798.68" fill="#000" fill-opacity="0.122"/>
<polygon points="720.47,822.1 733.81,826.78 733.81,836.12 720.47,840.8 707.13,836.12 707.13,826.78" fill="#000" fill-opacity="0.310"/>
<polygon points="720.47,850.2 733.81,854.88 733.81,864.22 720.47,868.9 707.13,864.22 707.13,854.88" fill="#000" fill-opacity="0.592"/>
<polygon points="720.47,878.3 733.81,882.98 733.81,892.32 720.47,897 707.13,892.32 707.13,882.98" fill="#000" fill-opacity="0.686"/>
<polygon points="720.47,906.4 733.81,911.08 733.81,920.42 720.47,925.1 707.13,920.42 707.13,911.08" fill="#000" fill-opacity="0.655"/>
<polygon points="720.47,934.5 733.81,939.18 733.81,948.52 720.47,953.2 707.13,948.52 707.13,939.18" fill="#000" fill-opacity="0.278"/>
<polygon points="720.47,962.6 733.81,967.28 733.81,976.62 720.47,981.3 707.13,976.62 707.13,967.28" fill="#000" fill-opacity="0.263"/>
<polygon points="720.47,990.7 733.81,995.38 733.81,1004.72 720.47,1009.4 707.13,1004.72 707.13,995.38" fill="#000" fill-opacity="0.027"/>
<polygon points="733.84,751.85 747.18,756.53 747.18,765.87 733.84,770.55 720.5,765.87 720.5,756.53" fill="#000" fill-opacity="0.027"/>
<polygon points="733.84,779.95 747.18,784.63 747.18,793.97 733.84,798.65 720.5,793.97 720.5,784.63" fill="#000" fill-opacity="0.027"/>
<polygon points="733.84,808.05 747.18,812.73 747.18,822.07 733.84,826.75 720.5,822.07 720.5,812.73" fill="#000" fill-opacity="0.184"/>
<polygon points="733.84,836.15 747.18,840.83 747.18,850.17 733.84,854.85 720.5,850.17 720.5,840.83" fill="#000" fill-opacity="0.216"/>
<polygon points="733.84,864.25 747.18,868.93 747.18,878.27 733.84,882.95 720.5,878.27 720.5,868.93" fill="#000" fill-opacity="0.639"/>
<polygon points="733.84,892.35 747.18,897.03 747.18,906.37 733.84,911.05 720.5,906.37 720.5,897.03" fill="#000" fill-opacity="0.667"/>
<polygon points="733.84,920.45 747.18,925.13 747.18,934.47 733.84,939.15 720.5,934.47 720.5,925.13" fill="#000" fill-opacity="0.592"/>
<polygon points="733.84,948.55 747.18,953.23 747.18,962.57 733.84,967.25 720.5,962.57 720.5,953.23" fill="#000" fill-opacity="0.200"/>
<polygon points="733.84,976.65 747.18,981.33 747.18,990.67 733.84,995.35 720.5,990.67 720.5,981.33" fill="#000" fill-opacity="0.059"/>
<polygon points="747.21,765.9 760.55,770.58 760.55,779.92 747.21,784.6 733.87,779.92 733.87,770.58" fill="#000" fill-opacity="0.059"/>
<polygon points="747.21,794 760.55,798.68 760.55,808.02 747.21,812.7 733.87,808.02 733.87,798.68" fill="#000" fill-opacity="0.153"/>
<polygon points="747.21,822.1 760.55,826.78 760.55,836.12 747.21,840.8 733.87,836.12 733.87,826.78" fill="#000" fill-opacity="0.278"/>
<polygon points="747.21,850.2 760.55,854.88 760.55,864.22 747.21,868.9 733.87,864.22 733.87,854.88" fill="#000" fill-opacity="0.459"/>
<polygon points="747.21,878.3 760.55,882.98 760.55,892.32 747.21,897 733.87,892.32 733.87,882.98" fill="#000" fill-opacity="0.655"/>
<polygon points="747.21,906.4 760.55,911.08 760.55,920.42 747.21,925.1 733.87,920.42 733.87,911.08" fill="#000" fill-opacity="0.498"/>
<polygon points="747.21,934.5 760.55,939.18 760.55,948.52 747.21,953.2 733.87,948.52 733.87,939.18" fill="#000" fill-opacity="0.278"/>
<polygon points="747.21,962.6 760.55,967.28 760.55,976.62 747.21,981.3 733.87,976.62 733.87,967.28" fill="#000" fill-opacity="0.153"/>
<polygon points="747.21,990.7 760.55,995.38 760.55,1004.72 747.21,1009.4 733.87,1004.72 733.87,995.38" fill="#000" fill-opacity="0.027"/>
<polygon points="760.58,779.95 773.92,784.63 773.92,793.97 760.58,798.65 747.24,793.97 747.24,784.63" fill="#000" fill-opacity="0.043"/>
<polygon points="760.58,808.05 773.92,812.73 773.92,822.07 760.58,826.75 747.24,822.07 747.24,812.73" fill="#000" fill-opacity="0.137"/>
<polygon points="760.58,836.15 773.92,840.83 773.92,850.17 760.58,854.85 747.24,850.17 747.24,840.83" fill="#000" fill-opacity="0.310"/>
<polygon points="760.58,864.25 773.92,868.93 773.92,878.27 760.58,882.95 747.24,878.27 747.24,868.93" fill="#000" fill-opacity="0.451"/>
<polygon points="760.58,892.35 773.92,897.03 773.92,906.37 760.58,911.05 747.24,906.37 747.24,897.03" fill="#000" fill-opacity="0.451"/>
<polygon points="760.58,920.45 773.92,925.13 773.92,934.47 760.58,939.15 747.24,934.47 747.24,925.13" fill="#000" fill-opacity="0.467"/>
<polygon points="760.58,948.55 773.92,953.23 773.92,962.57 760.58,967.25 747.24,962.57 747.24,953.23" fill="#000" fill-opacity="0.216"/>
<polygon points="760.58,976.65 773.92,981.33 773.92,990.67 760.58,995.35 747.24,990.67 747.24,981.33" fill="#000" fill-opacity="0.059"/>
<polygon points="760.58,1004.75 773.92,1009.43 773.92,1018.77 760.58,1023.45 747.24,1018.77 747.24,1009.43" fill="#000" fill-opacity="0.035"/>
<polygon points="773.95,765.9 787.29,770.58 787.29,779.92 773.95,784.6 760.61,779.92 760.61,770.58" fill="#000" fill-opacity="0.027"/>
<polygon points="773.95,794 787.29,798.68 787.29,808.02 773.95,812.7 760.61,808.02 760.61,798.68" fill="#000" fill-opacity="0.075"/>
<polygon points="773.95,822.1 787.29,826.78 787.29,836.12 773.95,840.8 760.61,836.12 760.61,826.78" fill="#000" fill-opacity="0.137"/>
<polygon points="773.95,850.2 787.29,854.88 787.29,864.22 773.95,868.9 760.61,864.22 760.61,854.88" fill="#000" fill-opacity="0.216"/>
<polygon points="773.95,878.3 787.29,882.98 787.29,892.32 773.95,897 760.61,892.32 760.61,882.98" fill="#000" fill-opacity="0.514"/>
<polygon points="773.95,906.4 787.29,911.08 787.29,920.42 773.95,925.1 760.61,920.42 760.61,911.08" fill="#000" fill-opacity="0.404"/>
<polygon points="773.95,934.5 787.29,939.18 787.29,948.52 773.95,953.2 760.61,948.52 760.61,939.18" fill="#000" fill-opacity="0.231"/>
<polygon points="773.95,962.6 787.29,967.28 787.29,976.62 773.95,981.3 760.61,976.62 760.61,967.28" fill="#000" fill-opacity="0.200"/>
<polygon points="773.95,990.7 787.29,995.38 787.29,1004.72 773.95,1009.4 760.61,1004.72 760.61,995.38" fill="#000" fill-opacity="0.122"/>
<polygon points="787.32,808.05 800.66,812.73 800.66,822.07 787.32,826.75 773.98,822.07 773.98,812.73" fill="#000" fill-opacity="0.059"/>
<polygon points="787.32,836.15 800.66,840.83 800.66,850.17 787.32,854.85 773.98,850.17 773.98,840.83" fill="#000" fill-opacity="0.231"/>
<polygon points="787.32,864.25 800.66,868.93 800.66,878.27 787.32,882.95 773.98,878.27 773.98,868.93" fill="#000" fill-opacity="0.357"/>
<polygon points="787.32,892.35 800.66,897.03 800.66,906.37 787.32,911.05 773.98,906.37 773.98,897.03" fill="#000" fill-opacity="0.341"/>
<polygon points="787.32,920.45 800.66,925.13 800.66,934.47 787.32,939.15 773.98,934.47 773.98,925.13" fill="#000" fill-opacity="0.294"/>
<polygon points="787.32,948.55 800.66,953.23 800.66,962.57 787.32,967.25 773.98,962.57 773.98,953.23" fill="#000" fill-opacity="0.294"/>
<polygon points="787.32,976.65 800.66,981.33 800.66,990.67 787.32,995.35 773.98,990.67 773.98,981.33" fill="#000" fill-opacity="0.075"/>
<polygon points="787.32,1004.75 800.66,1009.43 800.66,1018.77 787.32,1023.45 773.98,1018.77 773.98,1009.43" fill="#000" fill-opacity="0.020"/>
<polygon points="800.69,822.1 814.03,826.78 814.03,836.12 800.69,840.8 787.35,836.12 787.35,826.78" fill="#000" fill-opacity="0.137"/>
<polygon points="800.69,850.2 814.03,854.88 814.03,864.22 800.69,868.9 787.35,864.22 787.35,854.88" fill="#000" fill-opacity="0.200"/>
<polygon points="800.69,878.3 814.03,882.98 814.03,892.32 800.69,897 787.35,892.32 787.35,882.98" fill="#000" fill-opacity="0.184"/>
<polygon points="800.69,906.4 814.03,911.08 814.03,920.42 800.69,925.1 787.35,920.42 787.35,911.08" fill="#000" fill-opacity="0.373"/>
<polygon points="800.69,934.5 814.03,939.18 814.03,948.52 800.69,953.2 787.35,948.52 787.35,939.18" fill="#000" fill-opacity="0.027"/>
<polygon points="800.69,962.6 814.03,967.28 814.03,976.62 800.69,981.3 787.35,976.62 787.35,967.28" fill="#000" fill-opacity="0.059"/>
<polygon points="800.69,990.7 814.03,995.38 814.03,1004.72 800.69,1009.4 787.35,1004.72 787.35,995.38" fill="#000" fill-opacity="0.043"/>
<polygon points="814.06,808.05 827.4,812.73 827.4,822.07 814.06,826.75 800.72,822.07 800.72,812.73" fill="#000" fill-opacity="0.059"/>
<polygon points="814.06,836.15 827.4,840.83 827.4,850.17 814.06,854.85 800.72,850.17 800.72,840.83" fill="#000" fill-opacity="0.059"/>
<polygon points="814.06,864.25 827.4,868.93 827.4,878.27 814.06,882.95 800.72,878.27 800.72,868.93" fill="#000" fill-opacity="0.169"/>
<polygon points="814.06,892.35 827.4,897.03 827.4,906.37 814.06,911.05 800.72,906.37 800.72,897.03" fill="#000" fill-opacity="0.263"/>
<polygon points="814.06,920.45 827.4,925.13 827.4,934.47 814.06,939.15 800.72,934.47 800.72,925.13" fill="#000" fill-opacity="0.184"/>
<polygon points="814.06,948.55 827.4,953.23 827.4,962.57 814.06,967.25 800.72,962.57 800.72,953.23" fill="#000" fill-opacity="0.200"/>
<polygon points="827.43,822.1 840.77,826.78 840.77,836.12 827.43,840.8 814.09,836.12 814.09,826.78" fill="#000" fill-opacity="0.020"/>
<polygon points="827.43,850.2 840.77,854.88 840.77,864.22 827.43,868.9 814.09,864.22 814.09,854.88" fill="#000" fill-opacity="0.075"/>
<polygon points="827.43,878.3 840.77,882.98 840.77,892.32 827.43,897 814.09,892.32 814.09,882.98" fill="#000" fill-opacity="0.169"/>
<polygon points="827.43,906.4 840.77,911.08 840.77,920.42 827.43,925.1 814.09,920.42 814.09,911.08" fill="#000" fill-opacity="0.122"/>
<polygon points="827.43,934.5 840.77,939.18 840.77,948.52 827.43,953.2 814.09,948.52 814.09,939.18" fill="#000" fill-opacity="0.027"/>
<polygon points="827.43,962.6 840.77,967.28 840.77,976.62 827.43,981.3 814.09,976.62 814.09,967.28" fill="#000" fill-opacity="0.043"/>
<polygon points="840.8,836.15 854.14,840.83 854.14,850.17 840.8,854.85 827.46,850.17 827.46,840.83" fill="#000" fill-opacity="0.027"/>
<polygon points="840.8,864.25 854.14,868.93 854.14,878.27 840.8,882.95 827.46,878.27 827.46,868.93" fill="#000" fill-opacity="0.059"/>
<polygon points="840.8,892.35 854.14,897.03 854.14,906.37 840.8,911.05 827.46,906.37 827.46,897.03" fill="#000" fill-opacity="0.059"/>
<polygon points="840.8,920.45 854.14,925.13 854.14,934.47 840.8,939.15 827.46,934.47 827.46,925.13" fill="#000" fill-opacity="0.043"/>
<polygon points="840.8,948.55 854.14,953.23 854.14,962.57 840.8,967.25 827.46,962.57 827.46,953.23" fill="#000" fill-opacity="0.020"/>
<polygon points="854.17,850.2 867.51,854.88 867.51,864.22 854.17,868.9 840.83,864.22 840.83,854.88" fill="#000" fill-opacity="0.051"/>
<polygon points="854.17,878.3 867.51,882.98 867.51,892.32 854.17,897 840.83,892.32 840.83,882.98" fill="#000" fill-opacity="0.027"/>
<polygon points="854.17,906.4 867.51,911.08 867.51,920.42 854.17,925.1 840.83,920.42 840.83,911.08" fill="#000" fill-opacity="0.027"/>
<polygon points="867.54,864.25 880.88,868.93 880.88,878.27 867.54,882.95 854.2,878.27 854.2,868.93" fill="#000" fill-opacity="0.020"/>
<path d="M658.72,810.19h0M830.19,917.25h0M707.21,786.3h0M613.52,927.75h0M826.92,771.87h0M781.61,982.79h0M751.74,988.31h0M740.44,787.9h0M675.76,982.96h0M676.76,1010.13h0M637.98,802.94h0M682.73,1025.73h0M744.11,985.15h0M762.68,800.81h0M629.36,950h0M852.52,901.87h0M687.12,779.39h0M726.39,995.21h0M634.45,866.66h0M758.39,780.27h0M856.18,957.1h0M638.2,849.38h0M726.66,776.18h0M827.18,1022.38h0M709.24,790.43h0M714.41,760.11h0M668.65,772.07h0M616.44,820.43h0M775.07,992.81h0M814.22,980.42h0M649.54,958.59h0M826.46,816.81h0M632.25,816.7h0M822.03,853.76h0M629.5,808.83h0M700.7,988.04h0M718.05,793.31h0M739.67,982.13h0M762.48,998.05h0M648.81,834.73h0M712.32,786.53h0M636.3,809.55h0M617.66,948.21h0M696.33,1007.37h0M732.38,986.27h0M676.03,787.17h0M813.94,854.99h0M784.38,788.62h0M846.65,859.36h0M727.8,1037.42h0M701.37,1020.35h0M799.5,1042.3h0M774.75,799.31h0M873.35,896.44h0M650.17,989.15h0M639.11,944.45h0M832.6,906.39h0M849.06,883.16h0M700.55,1023.44h0M779.82,820.93h0M666.58,802.55h0M614.21,858.05h0M720.29,794.41h0M619.98,903.44h0M763.71,983.71h0M694.49,996.59h0M741.38,779.49h0M786.55,815.96h0M751.55,792.98h0M812.19,828.54h0M613.45,858.79h0M821.67,981.49h0M654.91,963.79h0M729.75,1010.17h0M700.97,789.47h0M595.3,874.98h0M702.97,778.17h0M749.02,988.51h0M742.47,1003.51h0M698.49,985.07h0M729.86,795.97h0M838.68,875.32h0M833.77,936.24h0M698.2,1012.31h0M815.13,965.36h0M832.07,913.45h0M627.86,877.13h0M785.33,1029.82h0M781.3,809.58h0M823.73,949.88h0M593.97,854.13h0M784.75,990.62h0M619.53,960.55h0M768.63,1017.95h0M790.26,822.02h0M837.48,939.11h0M727.12,796.57h0M596.7,906.92h0M637.88,833.06h0M777.52,978.32h0M695.83,1031.75h0M716.53,795.56h0M813.44,857.19h0M782.22,981.85h0M659.81,975.92h0M850.68,963.11h0M628.99,858.9h0M593.2,973.74h0M621.1,917.4h0M752.27,981.08h0M664.25,975.98h0M709.17,997.91h0M749.49,788.72h0M744.13,999.87h0M735.87,988.07h0M702.32,985.55h0M786.76,818.29h0M633.85,805.16h0M666.96,792.93h0M642.51,799.75h0M794.38,1020.39h0M638.11,868.4h0M702.78,789.64h0M655.88,784.48h0M726.01,1043.33h0M689.86,1001.66h0M620.21,951.94h0M625.66,902.45h0M773.48,982.02h0M743.95,997.27h0M775.83,794.53h0M726.8,1006.51h0M757.19,777.19h0M620.66,918.39h0M710.84,1004.42h0M632.55,925.56h0M859.26,864.65h0M732.79,978.52h0M831.73,830.28h0M676.91,1024.11h0M792.87,816.14h0M759.87,982.36h0M685.73,978.52h0M723.71,781.37h0M823.56,768.12h0M834.24,952.97h0M693.47,989.25h0M732.8,787.95h0M650.04,823.33h0M823.74,849.95h0M724.86,797.04h0M847.13,983.1h0M753.16,999.05h0M747.48,798.36h0M697.59,791.28h0M649.26,819.82h0M803.81,993.18h0M621.38,759.07h0M637.09,793.75h0M613.5,895.53h0M684.31,783.88h0M835.34,925.42h0M639.82,863.22h0M732.9,771.67h0M838.81,815.44h0M648.54,840.01h0M786.49,976.93h0M791.37,1013.11h0M643.71,849.74h0M766.87,998.77h0M704.77,763.99h0M801.49,816.7h0M625.45,905.39h0M820.32,941.61h0M840.49,936.51h0M787.36,808.86h0M809.7,852.64h0M836.01,916.32h0M630.76,920.83h0M758.18,765.6h0M796.15,983.54h0M610.75,913.25h0M618.95,932.04h0M676.19,989.23h0M814.98,973.14h0M621.67,943.49h0M835.84,1002.36h0M645.59,838.96h0M874.21,939.12h0M719.32,788.9h0M627.25,882.05h0M776,798.3h0M781.31,813.2h0M692.6,987.88h0M667.81,981.29h0M716.98,1043.83h0M809.19,851.71h0M788.75,975.66h0M649.9,961.78h0M733.57,978.83h0M665.96,803.63h0M853.93,972.88h0M751.15,772.84h0M657.16,1003.17h0M741.91,980.36h0M620.74,957.58h0M763.72,987.56h0M588.3,895.93h0M736.39,1005.08h0M851.92,838.21h0M827.81,802.87h0M816.29,827.01h0M660.89,1027.53h0M639.39,767.45h0M714.73,994.28h0M733.76,783.7h0M647.75,839.99h0M816.67,965.83h0M817.67,949.31h0M803.06,974.6h0M630.77,896.57h0M744.76,1017.97h0M780.91,821.17h0M831.69,866.07h0M628.1,958.44h0M605.89,849.44h0M729.01,782.48h0M842.65,791.27h0M778.56,816.68h0M647.24,848.04h0M743.45,782.49h0M632.08,775.33h0M624.92,913.12h0M727.77,1015.58h0M745.49,999.66h0M624.67,885.54h0M660.66,972.02h0M667.69,795.7h0M822.01,970.19h0M697.99,1010.44h0" stroke="#222" stroke-opacity="0.62" stroke-width="1.3" stroke-linecap="round" fill="none"/>
<path d="M637.11,880.71 C638.62,876.14 640.3,867.62 642.14,862.59 C643.99,857.56 646,854.21 648.18,850.52 C650.36,846.83 653.63,843.47 655.23,840.45 C656.82,837.43 657.24,834.75 657.74,832.4 C658.24,830.05 657.32,829.38 658.24,826.36 C659.17,823.34 661.43,818.31 663.28,814.28 C665.12,810.26 667.47,805.39 669.32,802.21 C671.16,799.02 672.5,796.84 674.35,795.16 C676.19,793.48 678.04,792.39 680.39,792.14 C682.73,791.89 685.42,793.06 688.44,793.65 C691.46,794.24 694.81,795.41 698.5,795.66 C702.19,795.92 706.89,794.91 710.58,795.16 C714.27,795.41 717.29,796.42 720.64,797.17 C724,797.93 727.35,799.19 730.71,799.69 C734.06,800.19 737.55,799.61 740.77,800.19 C744,800.78 746.84,802.12 750.06,803.21 C753.29,804.3 757.28,805.56 760.13,806.74 C762.98,807.91 765.16,808.66 767.17,810.26 C769.19,811.85 770.53,814.45 772.21,816.3 C773.88,818.14 775.06,820.07 777.24,821.33 C779.42,822.59 782.44,823.34 785.29,823.84 C788.14,824.35 791.83,824.01 794.35,824.35 C796.86,824.68 798.54,824.85 800.39,825.86 C802.23,826.86 804.16,828.29 805.42,830.39 C806.68,832.48 807.43,835.42 807.93,838.44 C808.44,841.46 808.1,845.48 808.44,848.5 C808.77,851.52 808.94,854.04 809.95,856.55 C810.95,859.07 812.38,861.42 814.48,863.6 C816.57,865.78 819.84,867.46 822.53,869.64 C825.21,871.82 828.48,874.33 830.58,876.68 C832.68,879.03 834.27,881.38 835.11,883.73 C835.95,886.08 835.53,889.73 835.61,890.77 C835.7,891.82 835.95,888.45 835.61,890 C835.28,891.55 834.61,896.37 833.6,900.06 C832.59,903.75 831.08,908.12 829.57,912.14 C828.06,916.17 826.22,920.53 824.54,924.22 C822.86,927.91 820.85,931.26 819.51,934.28 C818.17,937.3 816.83,939.65 816.49,942.33 C816.15,945.02 817.16,947.87 817.5,950.39 C817.83,952.9 819.01,955.08 818.5,957.43 C818,959.78 816.49,962.46 814.48,964.48 C812.46,966.49 809.44,968.17 806.43,969.51 C803.41,970.85 799.88,971.77 796.36,972.53 C792.84,973.28 788.31,973.2 785.29,974.04 C782.27,974.88 780.59,976.22 778.24,977.56 C775.9,978.9 773.21,981.17 771.2,982.09 C769.19,983.01 768.35,983.43 766.17,983.1 C763.99,982.76 760.8,981.33 758.12,980.08 C755.43,978.82 752.45,976.47 750.06,975.55 C747.68,974.62 746.18,974.54 743.79,974.54 C741.4,974.54 738.26,974.54 735.74,975.55 C733.22,976.55 730.88,978.82 728.7,980.58 C726.52,982.34 724.84,984.86 722.66,986.12 C720.48,987.37 718.46,988.13 715.61,988.13 C712.76,988.13 708.73,987.04 705.55,986.12 C702.36,985.19 699.34,983.85 696.49,982.59 C693.64,981.33 691.12,979.49 688.44,978.57 C685.75,977.64 683.41,977.22 680.39,977.06 C677.37,976.89 673.17,977.98 670.32,977.56 C667.47,977.14 665.29,976.05 663.28,974.54 C661.26,973.03 659.75,971.02 658.24,968.5 C656.74,965.99 655.73,961.96 654.22,959.44 C652.71,956.93 651.03,955.42 649.19,953.41 C647.34,951.39 644.66,949.88 643.15,947.37 C641.64,944.85 640.88,941.5 640.13,938.31 C639.37,935.12 639.46,932.1 638.62,928.24 C637.78,924.39 636.1,919.86 635.1,915.16 C634.09,910.46 632.92,904.26 632.58,900.06 C632.25,895.87 632.33,893.23 633.08,890 C633.84,886.77 635.6,885.28 637.11,880.71Z" fill="none" stroke="#000" stroke-opacity="0.54" stroke-width="2.7" stroke-linejoin="round"/>
<path d="M644.15,880.71 C645.24,876.14 646.5,867.62 648.18,862.59 C649.86,857.56 652.04,853.87 654.22,850.52 C656.4,847.16 659.5,845.48 661.26,842.46 C663.03,839.44 663.61,835.75 664.79,832.4 C665.96,829.04 666.88,825.69 668.31,822.33 C669.73,818.98 671.66,815.12 673.34,812.27 C675.02,809.42 676.53,806.82 678.37,805.23 C680.22,803.63 681.73,802.96 684.41,802.71 C687.1,802.46 690.95,803.55 694.48,803.72 C698,803.88 702.53,803.55 705.55,803.72 C708.57,803.88 710.41,803.88 712.59,804.72 C714.77,805.56 716.62,807.57 718.63,808.75 C720.64,809.92 722.32,811.35 724.67,811.77 C727.02,812.19 730.04,811.26 732.72,811.26 C735.41,811.26 738.22,811.43 740.77,811.77 C743.33,812.1 745.5,812.19 748.05,813.28 C750.61,814.37 753.75,816.46 756.1,818.31 C758.45,820.15 760.3,822.5 762.14,824.35 C763.99,826.19 765.16,828.12 767.17,829.38 C769.19,830.64 771.54,831.31 774.22,831.9 C776.9,832.48 780.59,832.4 783.28,832.9 C785.96,833.41 788.31,833.83 790.32,834.92 C792.33,836.01 793.84,837.01 795.35,839.44 C796.86,841.88 798.21,845.99 799.38,849.51 C800.55,853.03 801.56,857.06 802.4,860.58 C803.24,864.1 804.24,867.62 804.41,870.64 C804.58,873.66 803.24,876.35 803.41,878.7 C803.57,881.04 804.24,883.56 805.42,884.73 C806.59,885.91 808.61,885.91 810.45,885.74 C812.3,885.57 814.64,883.73 816.49,883.73 C818.33,883.73 820.26,884.4 821.52,885.74 C822.78,887.08 823.53,891.07 824.04,891.78 C824.54,892.49 824.46,888.95 824.54,890 C824.62,891.05 825.04,895.03 824.54,898.05 C824.04,901.07 822.53,904.59 821.52,908.12 C820.52,911.64 819.68,915.66 818.5,919.19 C817.33,922.71 816.15,926.57 814.48,929.25 C812.8,931.94 810.79,933.78 808.44,935.29 C806.09,936.8 803.41,937.64 800.39,938.31 C797.37,938.98 792.84,938.81 790.32,939.32 C787.81,939.82 786.38,940.15 785.29,941.33 C784.2,942.5 783.61,944.52 783.78,946.36 C783.95,948.21 785.37,950.55 786.3,952.4 C787.22,954.24 789.15,955.92 789.32,957.43 C789.48,958.94 788.81,960.2 787.3,961.46 C785.79,962.72 783.11,963.97 780.26,964.98 C777.41,965.99 773.55,967.24 770.19,967.5 C766.84,967.75 763.48,966.99 760.13,966.49 C756.77,965.99 752.95,964.81 750.06,964.48 C747.17,964.14 745.34,963.97 742.79,964.48 C740.23,964.98 737.08,965.99 734.73,967.5 C732.39,969.01 730.71,971.77 728.7,973.53 C726.68,975.3 724.84,977.06 722.66,978.06 C720.48,979.07 718.46,979.82 715.61,979.57 C712.76,979.32 708.73,977.73 705.55,976.55 C702.36,975.38 699.34,973.7 696.49,972.53 C693.64,971.35 691.46,970.1 688.44,969.51 C685.42,968.92 681.39,969.26 678.37,969.01 C675.35,968.75 672.5,968.92 670.32,968 C668.14,967.08 666.63,965.4 665.29,963.47 C663.95,961.54 663.44,958.77 662.27,956.43 C661.1,954.08 660.09,951.39 658.24,949.38 C656.4,947.37 653.13,946.36 651.2,944.35 C649.27,942.33 647.68,939.99 646.67,937.3 C645.66,934.62 645.83,931.94 645.16,928.24 C644.49,924.55 643.32,919.86 642.64,915.16 C641.97,910.46 641.3,904.26 641.14,900.06 C640.97,895.87 641.14,893.23 641.64,890 C642.14,886.77 643.06,885.28 644.15,880.71Z" fill="none" stroke="#000" stroke-opacity="0.54" stroke-width="2.7" stroke-linejoin="round"/>
<path d="M655.23,885.74 C655.73,882.18 656.9,873.16 657.74,868.63 C658.58,864.1 659,861.42 660.26,858.57 C661.52,855.72 663.44,853.87 665.29,851.52 C667.13,849.17 669.48,847.16 671.33,844.48 C673.17,841.79 674.68,837.68 676.36,835.42 C678.04,833.15 679.38,831.76 681.39,830.89 C683.41,830.02 685.92,830.07 688.44,830.19 C690.95,830.3 693.81,830.89 696.49,831.59 C699.17,832.3 701.86,833.27 704.54,834.41 C707.22,835.55 709.91,837.18 712.59,838.44 C715.28,839.7 717.96,841.04 720.64,841.96 C723.33,842.88 726.35,843.89 728.7,843.97 C731.04,844.06 732.72,843.39 734.73,842.46 C736.75,841.54 739.06,839.44 740.77,838.44 C742.49,837.43 743.48,836.43 745.03,836.43 C746.58,836.43 748.39,836.93 750.06,838.44 C751.74,839.95 753.67,842.8 755.1,845.48 C756.52,848.17 757.28,852.19 758.62,854.54 C759.96,856.89 760.88,858.23 763.15,859.57 C765.41,860.92 769.35,861.59 772.21,862.59 C775.06,863.6 777.91,864.44 780.26,865.61 C782.61,866.79 784.62,867.79 786.3,869.64 C787.97,871.48 789.32,874 790.32,876.68 C791.33,879.37 792,883.52 792.33,885.74 C792.67,887.96 792.08,887.95 792.33,890 C792.59,892.05 792.84,895.54 793.84,898.05 C794.85,900.57 796.78,902.92 798.37,905.1 C799.97,907.28 802.32,909.12 803.41,911.14 C804.5,913.15 805,915.16 804.92,917.17 C804.83,919.19 804.16,921.79 802.9,923.21 C801.64,924.64 799.97,925.23 797.37,925.73 C794.77,926.23 790.49,925.73 787.3,926.23 C784.12,926.74 780.76,927.57 778.24,928.75 C775.73,929.92 774.05,931.52 772.21,933.28 C770.36,935.04 769.02,937.47 767.17,939.32 C765.33,941.16 763.99,943.37 761.14,944.35 C758.28,945.32 753.46,944.9 750.06,945.15 C746.67,945.4 743.66,945.4 740.77,945.86 C737.88,946.31 735.41,947.2 732.72,947.87 C730.04,948.54 727.35,949.38 724.67,949.88 C721.99,950.39 718.97,951.06 716.62,950.89 C714.27,950.72 712.42,949.04 710.58,948.88 C708.73,948.71 707.22,949.13 705.55,949.88 C703.87,950.64 702.53,952.15 700.52,953.41 C698.5,954.66 695.99,956.68 693.47,957.43 C690.95,958.19 687.93,958.27 685.42,957.93 C682.9,957.6 680.55,956.68 678.37,955.42 C676.19,954.16 674.52,952.73 672.33,950.39 C670.15,948.04 667.47,944.35 665.29,941.33 C663.11,938.31 661.01,935.79 659.25,932.27 C657.49,928.75 655.9,923.88 654.72,920.19 C653.55,916.5 652.63,913.48 652.21,910.13 C651.79,906.77 651.79,903.42 652.21,900.06 C652.63,896.71 654.22,892.39 654.72,890 C655.23,887.61 654.72,889.3 655.23,885.74Z" fill="none" stroke="#000" stroke-opacity="0.54" stroke-width="2.7" stroke-linejoin="round"/>
<path d="M689.44,888.76 C690.28,886.71 691.96,880.88 693.47,877.69 C694.98,874.5 696.49,871.65 698.5,869.64 C700.52,867.62 703.03,866.62 705.55,865.61 C708.06,864.61 711.08,863.43 713.6,863.6 C716.12,863.77 718.13,865.11 720.64,866.62 C723.16,868.13 726.18,870.64 728.7,872.66 C731.21,874.67 733.98,876.68 735.74,878.7 C737.5,880.71 738.93,882.39 739.26,884.73 C739.6,887.08 737.75,891.91 737.75,892.79 C737.75,893.66 739.6,889.63 739.26,890 C738.93,890.37 737.5,893.02 735.74,895.03 C733.98,897.05 730.46,899.39 728.7,902.08 C726.93,904.76 726.18,907.95 725.17,911.14 C724.17,914.32 723.75,919.19 722.66,921.2 C721.57,923.21 720.98,923.46 718.63,923.21 C716.28,922.96 711.92,921.03 708.57,919.69 C705.21,918.35 701.86,916.92 698.5,915.16 C695.15,913.4 691.29,911.14 688.44,909.12 C685.59,907.11 682.06,905.1 681.39,903.08 C680.72,901.07 683.24,899.23 684.41,897.05 C685.59,894.86 687.6,891.38 688.44,890 C689.28,888.62 688.61,890.81 689.44,888.76Z" fill="none" stroke="#000" stroke-opacity="0.54" stroke-width="2.7" stroke-linejoin="round"/>
</g>
<rect x="248" y="80" width="300" height="300" fill="none" stroke="#000" stroke-width="2"/>
<rect x="248" y="416" width="300" height="300" fill="none" stroke="#000" stroke-width="2"/>
<rect x="584" y="416" width="300" height="300" fill="none" stroke="#000" stroke-width="2"/>
<rect x="248" y="752" width="300" height="300" fill="none" stroke="#000" stroke-width="2"/>
<rect x="584" y="752" width="300" height="300" fill="none" stroke="#000" stroke-width="2"/>
<rect x="920" y="752" width="300" height="300" fill="none" stroke="#000" stroke-width="2"/>
<line x1="261.25" y1="1052" x2="261.25" y2="1063" stroke="#000" stroke-width="2"/>
<text transform="translate(261.75,1068.2) rotate(-45)" text-anchor="end" font-size="28" x="0" y="26">1690</text>
<line x1="324.29" y1="1052" x2="324.29" y2="1063" stroke="#000" stroke-width="2"/>
<text transform="translate(324.79,1068.2) rotate(-45)" text-anchor="end" font-size="28" x="0" y="26">1700</text>
<line x1="387.33" y1="1052" x2="387.33" y2="1063" stroke="#000" stroke-width="2"/>
<text transform="translate(387.83,1068.2) rotate(-45)" text-anchor="end" font-size="28" x="0" y="26">1710</text>
<line x1="450.37" y1="1052" x2="450.37" y2="1063" stroke="#000" stroke-width="2"/>
<text transform="translate(450.87,1068.2) rotate(-45)" text-anchor="end" font-size="28" x="0" y="26">1720</text>
<line x1="513.41" y1="1052" x2="513.41" y2="1063" stroke="#000" stroke-width="2"/>
<text transform="translate(513.91,1068.2) rotate(-45)" text-anchor="end" font-size="28" x="0" y="26">1730</text>
<line x1="668" y1="1052" x2="668" y2="1063" stroke="#000" stroke-width="2"/>
<text transform="translate(668.5,1068.2) rotate(-45)" text-anchor="end" font-size="28" x="0" y="26">70.50</text>
<line x1="770.25" y1="1052" x2="770.25" y2="1063" stroke="#000" stroke-width="2"/>
<text transform="translate(770.75,1068.2) rotate(-45)" text-anchor="end" font-size="28" x="0" y="26">70.75</text>
<line x1="872.5" y1="1052" x2="872.5" y2="1063" stroke="#000" stroke-width="2"/>
<text transform="translate(873,1068.2) rotate(-45)" text-anchor="end" font-size="28" x="0" y="26">71.00</text>
<line x1="949.9" y1="1052" x2="949.9" y2="1063" stroke="#000" stroke-width="2"/>
<text transform="translate(950.4,1068.2) rotate(-45)" text-anchor="end" font-size="28" x="-1.2" y="26">6.0<tspan font-size="21.5" dx="2.5" dy="0.3">×</tspan><tspan dx="1.3" dy="-0.3">10</tspan><tspan font-size="23" dx="0.9" dy="-7">−</tspan><tspan font-size="17.5" dx="1.2" dy="-1.7">5</tspan></text>
<line x1="1024.83" y1="1052" x2="1024.83" y2="1063" stroke="#000" stroke-width="2"/>
<text transform="translate(1025.33,1068.2) rotate(-45)" text-anchor="end" font-size="28" x="-1.2" y="26">7.0<tspan font-size="21.5" dx="2.5" dy="0.3">×</tspan><tspan dx="1.3" dy="-0.3">10</tspan><tspan font-size="23" dx="0.9" dy="-7">−</tspan><tspan font-size="17.5" dx="1.2" dy="-1.7">5</tspan></text>
<line x1="1099.76" y1="1052" x2="1099.76" y2="1063" stroke="#000" stroke-width="2"/>
<text transform="translate(1100.26,1068.2) rotate(-45)" text-anchor="end" font-size="28" x="-1.2" y="26">8.0<tspan font-size="21.5" dx="2.5" dy="0.3">×</tspan><tspan dx="1.3" dy="-0.3">10</tspan><tspan font-size="23" dx="0.9" dy="-7">−</tspan><tspan font-size="17.5" dx="1.2" dy="-1.7">5</tspan></text>
<line x1="1174.69" y1="1052" x2="1174.69" y2="1063" stroke="#000" stroke-width="2"/>
<text transform="translate(1175.19,1068.2) rotate(-45)" text-anchor="end" font-size="28" x="-1.2" y="26">9.0<tspan font-size="21.5" dx="2.5" dy="0.3">×</tspan><tspan dx="1.3" dy="-0.3">10</tspan><tspan font-size="23" dx="0.9" dy="-7">−</tspan><tspan font-size="17.5" dx="1.2" dy="-1.7">5</tspan></text>
<line x1="237" y1="421.15" x2="248" y2="421.15" stroke="#000" stroke-width="2"/>
<text transform="translate(228.7,421.35) rotate(-45)" text-anchor="end" font-size="28" x="0" y="10">71.0</text>
<line x1="237" y1="463.89" x2="248" y2="463.89" stroke="#000" stroke-width="2"/>
<text transform="translate(228.7,464.09) rotate(-45)" text-anchor="end" font-size="28" x="0" y="10">70.9</text>
<line x1="237" y1="506.63" x2="248" y2="506.63" stroke="#000" stroke-width="2"/>
<text transform="translate(228.7,506.83) rotate(-45)" text-anchor="end" font-size="28" x="0" y="10">70.8</text>
<line x1="237" y1="549.37" x2="248" y2="549.37" stroke="#000" stroke-width="2"/>
<text transform="translate(228.7,549.57) rotate(-45)" text-anchor="end" font-size="28" x="0" y="10">70.7</text>
<line x1="237" y1="592.11" x2="248" y2="592.11" stroke="#000" stroke-width="2"/>
<text transform="translate(228.7,592.31) rotate(-45)" text-anchor="end" font-size="28" x="0" y="10">70.6</text>
<line x1="237" y1="634.85" x2="248" y2="634.85" stroke="#000" stroke-width="2"/>
<text transform="translate(228.7,635.05) rotate(-45)" text-anchor="end" font-size="28" x="0" y="10">70.5</text>
<line x1="237" y1="677.59" x2="248" y2="677.59" stroke="#000" stroke-width="2"/>
<text transform="translate(228.7,677.79) rotate(-45)" text-anchor="end" font-size="28" x="0" y="10">70.4</text>
<line x1="237" y1="803.3" x2="248" y2="803.3" stroke="#000" stroke-width="2"/>
<text transform="translate(228.7,803.5) rotate(-45)" text-anchor="end" font-size="28" x="-1.2" y="10">9.0<tspan font-size="21.5" dx="2.5" dy="0.3">×</tspan><tspan dx="1.3" dy="-0.3">10</tspan><tspan font-size="23" dx="0.9" dy="-7">−</tspan><tspan font-size="17.5" dx="1.2" dy="-1.7">5</tspan></text>
<line x1="237" y1="876.22" x2="248" y2="876.22" stroke="#000" stroke-width="2"/>
<text transform="translate(228.7,876.42) rotate(-45)" text-anchor="end" font-size="28" x="-1.2" y="10">8.0<tspan font-size="21.5" dx="2.5" dy="0.3">×</tspan><tspan dx="1.3" dy="-0.3">10</tspan><tspan font-size="23" dx="0.9" dy="-7">−</tspan><tspan font-size="17.5" dx="1.2" dy="-1.7">5</tspan></text>
<line x1="237" y1="949.14" x2="248" y2="949.14" stroke="#000" stroke-width="2"/>
<text transform="translate(228.7,949.34) rotate(-45)" text-anchor="end" font-size="28" x="-1.2" y="10">7.0<tspan font-size="21.5" dx="2.5" dy="0.3">×</tspan><tspan dx="1.3" dy="-0.3">10</tspan><tspan font-size="23" dx="0.9" dy="-7">−</tspan><tspan font-size="17.5" dx="1.2" dy="-1.7">5</tspan></text>
<line x1="237" y1="1022.06" x2="248" y2="1022.06" stroke="#000" stroke-width="2"/>
<text transform="translate(228.7,1022.26) rotate(-45)" text-anchor="end" font-size="28" x="-1.2" y="10">6.0<tspan font-size="21.5" dx="2.5" dy="0.3">×</tspan><tspan dx="1.3" dy="-0.3">10</tspan><tspan font-size="23" dx="0.9" dy="-7">−</tspan><tspan font-size="17.5" dx="1.2" dy="-1.7">5</tspan></text>
<text x="398" y="1222.9" text-anchor="middle" font-size="28">b:</text>
<text x="398" y="1255.9" text-anchor="middle" font-size="28">sep</text>
<text x="734" y="1222.9" text-anchor="middle" font-size="28">b:</text>
<text x="734" y="1255.9" text-anchor="middle" font-size="28">pa</text>
<text x="1070" y="1222.9" text-anchor="middle" font-size="28">b:</text>
<text x="1070" y="1255.9" text-anchor="middle" font-size="28">images_flux</text>
<text transform="translate(56.2,566.4) rotate(-90)" text-anchor="middle" font-size="28">b:</text>
<text transform="translate(88.9,566.4) rotate(-90)" text-anchor="middle" font-size="28">pa</text>
<text transform="translate(56.2,902.4) rotate(-90)" text-anchor="middle" font-size="28">b:</text>
<text transform="translate(88.9,902.4) rotate(-90)" text-anchor="middle" font-size="28">images_flux</text>
<text x="356.3" y="61" font-size="28">1704</text>
<text x="439.7" y="49.6" font-size="18.5" text-anchor="end">+6</text>
<text x="439.7" y="67.9" font-size="18.5" text-anchor="end">-3</text>
<text x="673.8" y="397" font-size="28">70.63</text>
<text x="791.2" y="385.6" font-size="18.5" text-anchor="end">+0.14</text>
<text x="791.2" y="403.9" font-size="18.5" text-anchor="end">-0.11</text>
<text x="966.3" y="737.3" font-size="28">(7.7 ± 0.6) <tspan font-size="23.5" dx="1.3" dy="1.8">×</tspan><tspan dx="1.3" dy="-1.8"> 10</tspan><tspan font-size="18.5" dy="-11">-5</tspan></text>
<rect x="1256" y="80" width="116" height="64" fill="#fff" stroke="#000" stroke-width="2"/>
<line x1="1268" y1="112" x2="1308" y2="112" stroke="#808080" stroke-width="3"/>
<text x="1318" y="122.2" font-size="28">sys</text>
</svg></body></html>
